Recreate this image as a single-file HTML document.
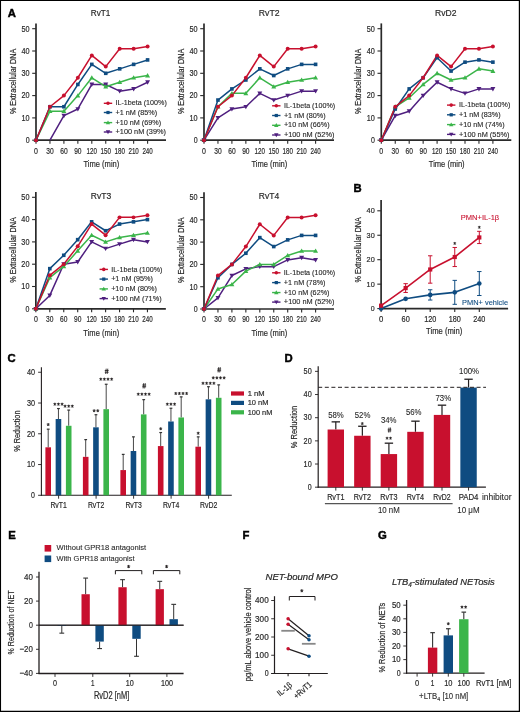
<!DOCTYPE html><html><head><meta charset="utf-8"><style>html,body{margin:0;padding:0;background:#fff}svg{display:block;will-change:transform}text{font-family:"Liberation Sans",sans-serif}</style></head><body>
<svg width="520" height="712" viewBox="0 0 520 712">
<rect x="0" y="0" width="520" height="712" fill="#fff"/>
<text x="7.8" y="17" font-size="11.3" fill="#000" stroke="#000" stroke-width="0.45" font-weight="bold">A</text>
<line x1="36" y1="23.4" x2="36" y2="140.8" stroke="#2a2a2a" stroke-width="1.7" />
<line x1="35.4" y1="140.2" x2="166" y2="140.2" stroke="#2a2a2a" stroke-width="1.7" />
<line x1="32.2" y1="140.2" x2="36" y2="140.2" stroke="#2a2a2a" stroke-width="1.1" />
<text x="29.6" y="143.08" font-size="9.3" text-anchor="end" fill="#2a2a2a" stroke="#2a2a2a" stroke-width="0.2" textLength="3.9" lengthAdjust="spacingAndGlyphs">0</text>
<line x1="32.2" y1="117.9" x2="36" y2="117.9" stroke="#2a2a2a" stroke-width="1.1" />
<text x="29.6" y="120.78" font-size="9.3" text-anchor="end" fill="#2a2a2a" stroke="#2a2a2a" stroke-width="0.2" textLength="8.1" lengthAdjust="spacingAndGlyphs">10</text>
<line x1="32.2" y1="95.6" x2="36" y2="95.6" stroke="#2a2a2a" stroke-width="1.1" />
<text x="29.6" y="98.48" font-size="9.3" text-anchor="end" fill="#2a2a2a" stroke="#2a2a2a" stroke-width="0.2" textLength="8.1" lengthAdjust="spacingAndGlyphs">20</text>
<line x1="32.2" y1="73.3" x2="36" y2="73.3" stroke="#2a2a2a" stroke-width="1.1" />
<text x="29.6" y="76.18" font-size="9.3" text-anchor="end" fill="#2a2a2a" stroke="#2a2a2a" stroke-width="0.2" textLength="8.1" lengthAdjust="spacingAndGlyphs">30</text>
<line x1="32.2" y1="51" x2="36" y2="51" stroke="#2a2a2a" stroke-width="1.1" />
<text x="29.6" y="53.88" font-size="9.3" text-anchor="end" fill="#2a2a2a" stroke="#2a2a2a" stroke-width="0.2" textLength="8.1" lengthAdjust="spacingAndGlyphs">40</text>
<line x1="32.2" y1="28.7" x2="36" y2="28.7" stroke="#2a2a2a" stroke-width="1.1" />
<text x="29.6" y="31.58" font-size="9.3" text-anchor="end" fill="#2a2a2a" stroke="#2a2a2a" stroke-width="0.2" textLength="8.1" lengthAdjust="spacingAndGlyphs">50</text>
<line x1="36" y1="140.2" x2="36" y2="143.7" stroke="#2a2a2a" stroke-width="1.1" />
<text x="36" y="153.69" font-size="9" text-anchor="middle" fill="#2a2a2a" stroke="#2a2a2a" stroke-width="0.2" textLength="3.9" lengthAdjust="spacingAndGlyphs">0</text>
<line x1="49.95" y1="140.2" x2="49.95" y2="143.7" stroke="#2a2a2a" stroke-width="1.1" />
<text x="49.95" y="153.69" font-size="9" text-anchor="middle" fill="#2a2a2a" stroke="#2a2a2a" stroke-width="0.2" textLength="7.4" lengthAdjust="spacingAndGlyphs">30</text>
<line x1="63.9" y1="140.2" x2="63.9" y2="143.7" stroke="#2a2a2a" stroke-width="1.1" />
<text x="63.9" y="153.69" font-size="9" text-anchor="middle" fill="#2a2a2a" stroke="#2a2a2a" stroke-width="0.2" textLength="7.4" lengthAdjust="spacingAndGlyphs">60</text>
<line x1="77.85" y1="140.2" x2="77.85" y2="143.7" stroke="#2a2a2a" stroke-width="1.1" />
<text x="77.85" y="153.69" font-size="9" text-anchor="middle" fill="#2a2a2a" stroke="#2a2a2a" stroke-width="0.2" textLength="7.4" lengthAdjust="spacingAndGlyphs">90</text>
<line x1="91.8" y1="140.2" x2="91.8" y2="143.7" stroke="#2a2a2a" stroke-width="1.1" />
<text x="91.8" y="153.69" font-size="9" text-anchor="middle" fill="#2a2a2a" stroke="#2a2a2a" stroke-width="0.2" textLength="10.4" lengthAdjust="spacingAndGlyphs">120</text>
<line x1="105.75" y1="140.2" x2="105.75" y2="143.7" stroke="#2a2a2a" stroke-width="1.1" />
<text x="105.75" y="153.69" font-size="9" text-anchor="middle" fill="#2a2a2a" stroke="#2a2a2a" stroke-width="0.2" textLength="10.4" lengthAdjust="spacingAndGlyphs">150</text>
<line x1="119.7" y1="140.2" x2="119.7" y2="143.7" stroke="#2a2a2a" stroke-width="1.1" />
<text x="119.7" y="153.69" font-size="9" text-anchor="middle" fill="#2a2a2a" stroke="#2a2a2a" stroke-width="0.2" textLength="10.4" lengthAdjust="spacingAndGlyphs">180</text>
<line x1="133.65" y1="140.2" x2="133.65" y2="143.7" stroke="#2a2a2a" stroke-width="1.1" />
<text x="133.65" y="153.69" font-size="9" text-anchor="middle" fill="#2a2a2a" stroke="#2a2a2a" stroke-width="0.2" textLength="10.4" lengthAdjust="spacingAndGlyphs">210</text>
<line x1="147.6" y1="140.2" x2="147.6" y2="143.7" stroke="#2a2a2a" stroke-width="1.1" />
<text x="147.6" y="153.69" font-size="9" text-anchor="middle" fill="#2a2a2a" stroke="#2a2a2a" stroke-width="0.2" textLength="10.4" lengthAdjust="spacingAndGlyphs">240</text>
<text x="101.4" y="167.07" font-size="9.9" text-anchor="middle" fill="#2a2a2a" stroke="#2a2a2a" stroke-width="0.2" textLength="35.8" lengthAdjust="spacingAndGlyphs">Time (min)</text>
<text x="13.1" y="84.13" font-size="8.8" text-anchor="middle" fill="#2a2a2a" stroke="#2a2a2a" stroke-width="0.2" textLength="65.4" lengthAdjust="spacingAndGlyphs" transform="rotate(-90 13.1 81.4)">% Extracellular DNA</text>
<text x="100.6" y="16.12" font-size="9.9" text-anchor="middle" fill="#2a2a2a" stroke="#2a2a2a" stroke-width="0.2" textLength="19.6" lengthAdjust="spacingAndGlyphs">RvT1</text>
<polyline points="49.95,140.2 63.9,115.67 77.85,108.98 91.8,84.45 105.75,84.45 119.7,91.14 133.65,88.91 147.6,82.22" fill="none" stroke="#4f1f7f" stroke-width="1.5" stroke-linejoin="round"/>
<polyline points="36,140.2 49.95,111.21 63.9,111.21 77.85,95.6 91.8,77.76 105.75,86.68 119.7,82.22 133.65,77.76 147.6,75.53" fill="none" stroke="#3bb54a" stroke-width="1.5" stroke-linejoin="round"/>
<polyline points="36,140.2 49.95,106.75 63.9,106.75 77.85,84.45 91.8,64.38 105.75,73.3 119.7,68.84 133.65,64.38 147.6,59.92" fill="none" stroke="#0f4c81" stroke-width="1.5" stroke-linejoin="round"/>
<polyline points="36,140.2 49.95,106.75 63.9,95.6 77.85,77.76 91.8,55.46 105.75,66.61 119.7,48.77 133.65,48.77 147.6,46.54" fill="none" stroke="#c8102e" stroke-width="1.5" stroke-linejoin="round"/>
<path d="M63.9 118.14L66.37 113.82L61.43 113.82Z" fill="#4f1f7f"/>
<path d="M77.85 111.45L80.32 107.13L75.38 107.13Z" fill="#4f1f7f"/>
<path d="M91.8 86.92L94.27 82.6L89.33 82.6Z" fill="#4f1f7f"/>
<path d="M105.75 86.92L108.22 82.6L103.28 82.6Z" fill="#4f1f7f"/>
<path d="M119.7 93.61L122.17 89.29L117.23 89.29Z" fill="#4f1f7f"/>
<path d="M133.65 91.38L136.12 87.06L131.18 87.06Z" fill="#4f1f7f"/>
<path d="M147.6 84.69L150.07 80.37L145.13 80.37Z" fill="#4f1f7f"/>
<path d="M36 137.73L38.47 142.05L33.53 142.05Z" fill="#3bb54a"/>
<path d="M49.95 108.74L52.42 113.06L47.48 113.06Z" fill="#3bb54a"/>
<path d="M63.9 108.74L66.37 113.06L61.43 113.06Z" fill="#3bb54a"/>
<path d="M77.85 93.13L80.32 97.45L75.38 97.45Z" fill="#3bb54a"/>
<path d="M91.8 75.29L94.27 79.61L89.33 79.61Z" fill="#3bb54a"/>
<path d="M105.75 84.21L108.22 88.53L103.28 88.53Z" fill="#3bb54a"/>
<path d="M119.7 79.75L122.17 84.07L117.23 84.07Z" fill="#3bb54a"/>
<path d="M133.65 75.29L136.12 79.61L131.18 79.61Z" fill="#3bb54a"/>
<path d="M147.6 73.06L150.07 77.38L145.13 77.38Z" fill="#3bb54a"/>
<rect x="34.2" y="138.39" width="3.61" height="3.61" fill="#0f4c81"/>
<rect x="48.15" y="104.94" width="3.61" height="3.61" fill="#0f4c81"/>
<rect x="62.09" y="104.94" width="3.61" height="3.61" fill="#0f4c81"/>
<rect x="76.04" y="82.64" width="3.61" height="3.61" fill="#0f4c81"/>
<rect x="89.99" y="62.57" width="3.61" height="3.61" fill="#0f4c81"/>
<rect x="103.94" y="71.49" width="3.61" height="3.61" fill="#0f4c81"/>
<rect x="117.89" y="67.03" width="3.61" height="3.61" fill="#0f4c81"/>
<rect x="131.84" y="62.57" width="3.61" height="3.61" fill="#0f4c81"/>
<rect x="145.79" y="58.11" width="3.61" height="3.61" fill="#0f4c81"/>
<circle cx="36" cy="140.2" r="1.99" fill="#c8102e"/>
<circle cx="49.95" cy="106.75" r="1.99" fill="#c8102e"/>
<circle cx="63.9" cy="95.6" r="1.99" fill="#c8102e"/>
<circle cx="77.85" cy="77.76" r="1.99" fill="#c8102e"/>
<circle cx="91.8" cy="55.46" r="1.99" fill="#c8102e"/>
<circle cx="105.75" cy="66.61" r="1.99" fill="#c8102e"/>
<circle cx="119.7" cy="48.77" r="1.99" fill="#c8102e"/>
<circle cx="133.65" cy="48.77" r="1.99" fill="#c8102e"/>
<circle cx="147.6" cy="46.54" r="1.99" fill="#c8102e"/>
<line x1="103.8" y1="103.3" x2="112.2" y2="103.3" stroke="#c8102e" stroke-width="1.4" />
<circle cx="108" cy="103.3" r="1.78" fill="#c8102e"/>
<text x="115.5" y="105.47" font-size="7" fill="#2a2a2a" stroke="#2a2a2a" stroke-width="0.12" textLength="51.3" lengthAdjust="spacingAndGlyphs">IL-1beta (100%)</text>
<line x1="103.8" y1="112.5" x2="112.2" y2="112.5" stroke="#0f4c81" stroke-width="1.4" />
<rect x="106.39" y="110.89" width="3.23" height="3.23" fill="#0f4c81"/>
<text x="115.5" y="114.67" font-size="7" fill="#2a2a2a" stroke="#2a2a2a" stroke-width="0.12" textLength="41.7" lengthAdjust="spacingAndGlyphs">+1 nM (85%)</text>
<line x1="103.8" y1="122.6" x2="112.2" y2="122.6" stroke="#3bb54a" stroke-width="1.4" />
<path d="M108 120.39L110.21 124.26L105.79 124.26Z" fill="#3bb54a"/>
<text x="115.5" y="124.77" font-size="7" fill="#2a2a2a" stroke="#2a2a2a" stroke-width="0.12" textLength="45.7" lengthAdjust="spacingAndGlyphs">+10 nM (69%)</text>
<line x1="103.8" y1="132" x2="112.2" y2="132" stroke="#4f1f7f" stroke-width="1.4" />
<path d="M108 134.21L110.21 130.34L105.79 130.34Z" fill="#4f1f7f"/>
<text x="115.5" y="134.17" font-size="7" fill="#2a2a2a" stroke="#2a2a2a" stroke-width="0.12" textLength="50.5" lengthAdjust="spacingAndGlyphs">+100 nM (39%)</text>
<line x1="204" y1="23.4" x2="204" y2="140.8" stroke="#2a2a2a" stroke-width="1.7" />
<line x1="203.4" y1="140.2" x2="334" y2="140.2" stroke="#2a2a2a" stroke-width="1.7" />
<line x1="200.2" y1="140.2" x2="204" y2="140.2" stroke="#2a2a2a" stroke-width="1.1" />
<text x="197.6" y="143.08" font-size="9.3" text-anchor="end" fill="#2a2a2a" stroke="#2a2a2a" stroke-width="0.2" textLength="3.9" lengthAdjust="spacingAndGlyphs">0</text>
<line x1="200.2" y1="117.9" x2="204" y2="117.9" stroke="#2a2a2a" stroke-width="1.1" />
<text x="197.6" y="120.78" font-size="9.3" text-anchor="end" fill="#2a2a2a" stroke="#2a2a2a" stroke-width="0.2" textLength="8.1" lengthAdjust="spacingAndGlyphs">10</text>
<line x1="200.2" y1="95.6" x2="204" y2="95.6" stroke="#2a2a2a" stroke-width="1.1" />
<text x="197.6" y="98.48" font-size="9.3" text-anchor="end" fill="#2a2a2a" stroke="#2a2a2a" stroke-width="0.2" textLength="8.1" lengthAdjust="spacingAndGlyphs">20</text>
<line x1="200.2" y1="73.3" x2="204" y2="73.3" stroke="#2a2a2a" stroke-width="1.1" />
<text x="197.6" y="76.18" font-size="9.3" text-anchor="end" fill="#2a2a2a" stroke="#2a2a2a" stroke-width="0.2" textLength="8.1" lengthAdjust="spacingAndGlyphs">30</text>
<line x1="200.2" y1="51" x2="204" y2="51" stroke="#2a2a2a" stroke-width="1.1" />
<text x="197.6" y="53.88" font-size="9.3" text-anchor="end" fill="#2a2a2a" stroke="#2a2a2a" stroke-width="0.2" textLength="8.1" lengthAdjust="spacingAndGlyphs">40</text>
<line x1="200.2" y1="28.7" x2="204" y2="28.7" stroke="#2a2a2a" stroke-width="1.1" />
<text x="197.6" y="31.58" font-size="9.3" text-anchor="end" fill="#2a2a2a" stroke="#2a2a2a" stroke-width="0.2" textLength="8.1" lengthAdjust="spacingAndGlyphs">50</text>
<line x1="204" y1="140.2" x2="204" y2="143.7" stroke="#2a2a2a" stroke-width="1.1" />
<text x="204" y="153.69" font-size="9" text-anchor="middle" fill="#2a2a2a" stroke="#2a2a2a" stroke-width="0.2" textLength="3.9" lengthAdjust="spacingAndGlyphs">0</text>
<line x1="217.95" y1="140.2" x2="217.95" y2="143.7" stroke="#2a2a2a" stroke-width="1.1" />
<text x="217.95" y="153.69" font-size="9" text-anchor="middle" fill="#2a2a2a" stroke="#2a2a2a" stroke-width="0.2" textLength="7.4" lengthAdjust="spacingAndGlyphs">30</text>
<line x1="231.9" y1="140.2" x2="231.9" y2="143.7" stroke="#2a2a2a" stroke-width="1.1" />
<text x="231.9" y="153.69" font-size="9" text-anchor="middle" fill="#2a2a2a" stroke="#2a2a2a" stroke-width="0.2" textLength="7.4" lengthAdjust="spacingAndGlyphs">60</text>
<line x1="245.85" y1="140.2" x2="245.85" y2="143.7" stroke="#2a2a2a" stroke-width="1.1" />
<text x="245.85" y="153.69" font-size="9" text-anchor="middle" fill="#2a2a2a" stroke="#2a2a2a" stroke-width="0.2" textLength="7.4" lengthAdjust="spacingAndGlyphs">90</text>
<line x1="259.8" y1="140.2" x2="259.8" y2="143.7" stroke="#2a2a2a" stroke-width="1.1" />
<text x="259.8" y="153.69" font-size="9" text-anchor="middle" fill="#2a2a2a" stroke="#2a2a2a" stroke-width="0.2" textLength="10.4" lengthAdjust="spacingAndGlyphs">120</text>
<line x1="273.75" y1="140.2" x2="273.75" y2="143.7" stroke="#2a2a2a" stroke-width="1.1" />
<text x="273.75" y="153.69" font-size="9" text-anchor="middle" fill="#2a2a2a" stroke="#2a2a2a" stroke-width="0.2" textLength="10.4" lengthAdjust="spacingAndGlyphs">150</text>
<line x1="287.7" y1="140.2" x2="287.7" y2="143.7" stroke="#2a2a2a" stroke-width="1.1" />
<text x="287.7" y="153.69" font-size="9" text-anchor="middle" fill="#2a2a2a" stroke="#2a2a2a" stroke-width="0.2" textLength="10.4" lengthAdjust="spacingAndGlyphs">180</text>
<line x1="301.65" y1="140.2" x2="301.65" y2="143.7" stroke="#2a2a2a" stroke-width="1.1" />
<text x="301.65" y="153.69" font-size="9" text-anchor="middle" fill="#2a2a2a" stroke="#2a2a2a" stroke-width="0.2" textLength="10.4" lengthAdjust="spacingAndGlyphs">210</text>
<line x1="315.6" y1="140.2" x2="315.6" y2="143.7" stroke="#2a2a2a" stroke-width="1.1" />
<text x="315.6" y="153.69" font-size="9" text-anchor="middle" fill="#2a2a2a" stroke="#2a2a2a" stroke-width="0.2" textLength="10.4" lengthAdjust="spacingAndGlyphs">240</text>
<text x="269.4" y="167.07" font-size="9.9" text-anchor="middle" fill="#2a2a2a" stroke="#2a2a2a" stroke-width="0.2" textLength="35.8" lengthAdjust="spacingAndGlyphs">Time (min)</text>
<text x="181.1" y="84.13" font-size="8.8" text-anchor="middle" fill="#2a2a2a" stroke="#2a2a2a" stroke-width="0.2" textLength="65.4" lengthAdjust="spacingAndGlyphs" transform="rotate(-90 181.1 81.4)">% Extracellular DNA</text>
<text x="269.2" y="16.12" font-size="9.9" text-anchor="middle" fill="#2a2a2a" stroke="#2a2a2a" stroke-width="0.2" textLength="20.8" lengthAdjust="spacingAndGlyphs">RvT2</text>
<polyline points="204,140.2 217.95,117.9 231.9,108.98 245.85,106.75 259.8,93.37 273.75,100.06 287.7,95.6 301.65,91.14 315.6,91.14" fill="none" stroke="#4f1f7f" stroke-width="1.5" stroke-linejoin="round"/>
<polyline points="204,140.2 217.95,106.75 231.9,93.37 245.85,93.37 259.8,77.76 273.75,86.68 287.7,82.22 301.65,79.99 315.6,77.76" fill="none" stroke="#3bb54a" stroke-width="1.5" stroke-linejoin="round"/>
<polyline points="204,140.2 217.95,100.06 231.9,88.91 245.85,79.99 259.8,68.84 273.75,75.53 287.7,68.84 301.65,64.38 315.6,64.38" fill="none" stroke="#0f4c81" stroke-width="1.5" stroke-linejoin="round"/>
<polyline points="204,140.2 217.95,106.75 231.9,95.6 245.85,77.76 259.8,55.46 273.75,66.61 287.7,48.77 301.65,48.77 315.6,46.54" fill="none" stroke="#c8102e" stroke-width="1.5" stroke-linejoin="round"/>
<path d="M204 142.67L206.47 138.35L201.53 138.35Z" fill="#4f1f7f"/>
<path d="M217.95 120.37L220.42 116.05L215.48 116.05Z" fill="#4f1f7f"/>
<path d="M231.9 111.45L234.37 107.13L229.43 107.13Z" fill="#4f1f7f"/>
<path d="M245.85 109.22L248.32 104.9L243.38 104.9Z" fill="#4f1f7f"/>
<path d="M259.8 95.84L262.27 91.52L257.33 91.52Z" fill="#4f1f7f"/>
<path d="M273.75 102.53L276.22 98.21L271.28 98.21Z" fill="#4f1f7f"/>
<path d="M287.7 98.07L290.17 93.75L285.23 93.75Z" fill="#4f1f7f"/>
<path d="M301.65 93.61L304.12 89.29L299.18 89.29Z" fill="#4f1f7f"/>
<path d="M315.6 93.61L318.07 89.29L313.13 89.29Z" fill="#4f1f7f"/>
<path d="M204 137.73L206.47 142.05L201.53 142.05Z" fill="#3bb54a"/>
<path d="M217.95 104.28L220.42 108.6L215.48 108.6Z" fill="#3bb54a"/>
<path d="M231.9 90.9L234.37 95.22L229.43 95.22Z" fill="#3bb54a"/>
<path d="M245.85 90.9L248.32 95.22L243.38 95.22Z" fill="#3bb54a"/>
<path d="M259.8 75.29L262.27 79.61L257.33 79.61Z" fill="#3bb54a"/>
<path d="M273.75 84.21L276.22 88.53L271.28 88.53Z" fill="#3bb54a"/>
<path d="M287.7 79.75L290.17 84.07L285.23 84.07Z" fill="#3bb54a"/>
<path d="M301.65 77.52L304.12 81.84L299.18 81.84Z" fill="#3bb54a"/>
<path d="M315.6 75.29L318.07 79.61L313.13 79.61Z" fill="#3bb54a"/>
<rect x="202.19" y="138.39" width="3.61" height="3.61" fill="#0f4c81"/>
<rect x="216.14" y="98.25" width="3.61" height="3.61" fill="#0f4c81"/>
<rect x="230.09" y="87.1" width="3.61" height="3.61" fill="#0f4c81"/>
<rect x="244.04" y="78.18" width="3.61" height="3.61" fill="#0f4c81"/>
<rect x="258" y="67.03" width="3.61" height="3.61" fill="#0f4c81"/>
<rect x="271.94" y="73.72" width="3.61" height="3.61" fill="#0f4c81"/>
<rect x="285.89" y="67.03" width="3.61" height="3.61" fill="#0f4c81"/>
<rect x="299.84" y="62.57" width="3.61" height="3.61" fill="#0f4c81"/>
<rect x="313.8" y="62.57" width="3.61" height="3.61" fill="#0f4c81"/>
<circle cx="204" cy="140.2" r="1.99" fill="#c8102e"/>
<circle cx="217.95" cy="106.75" r="1.99" fill="#c8102e"/>
<circle cx="231.9" cy="95.6" r="1.99" fill="#c8102e"/>
<circle cx="245.85" cy="77.76" r="1.99" fill="#c8102e"/>
<circle cx="259.8" cy="55.46" r="1.99" fill="#c8102e"/>
<circle cx="273.75" cy="66.61" r="1.99" fill="#c8102e"/>
<circle cx="287.7" cy="48.77" r="1.99" fill="#c8102e"/>
<circle cx="301.65" cy="48.77" r="1.99" fill="#c8102e"/>
<circle cx="315.6" cy="46.54" r="1.99" fill="#c8102e"/>
<line x1="272.1" y1="105.8" x2="280.5" y2="105.8" stroke="#c8102e" stroke-width="1.4" />
<circle cx="276.3" cy="105.8" r="1.78" fill="#c8102e"/>
<text x="283.9" y="107.97" font-size="7" fill="#2a2a2a" stroke="#2a2a2a" stroke-width="0.12" textLength="51.3" lengthAdjust="spacingAndGlyphs">IL-1beta (100%)</text>
<line x1="272.1" y1="115.5" x2="280.5" y2="115.5" stroke="#0f4c81" stroke-width="1.4" />
<rect x="274.69" y="113.89" width="3.23" height="3.23" fill="#0f4c81"/>
<text x="283.9" y="117.67" font-size="7" fill="#2a2a2a" stroke="#2a2a2a" stroke-width="0.12" textLength="41.7" lengthAdjust="spacingAndGlyphs">+1 nM (80%)</text>
<line x1="272.1" y1="125.3" x2="280.5" y2="125.3" stroke="#3bb54a" stroke-width="1.4" />
<path d="M276.3 123.09L278.51 126.96L274.09 126.96Z" fill="#3bb54a"/>
<text x="283.9" y="127.47" font-size="7" fill="#2a2a2a" stroke="#2a2a2a" stroke-width="0.12" textLength="45.7" lengthAdjust="spacingAndGlyphs">+10 nM (66%)</text>
<line x1="272.1" y1="135" x2="280.5" y2="135" stroke="#4f1f7f" stroke-width="1.4" />
<path d="M276.3 137.21L278.51 133.34L274.09 133.34Z" fill="#4f1f7f"/>
<text x="283.9" y="137.17" font-size="7" fill="#2a2a2a" stroke="#2a2a2a" stroke-width="0.12" textLength="50.5" lengthAdjust="spacingAndGlyphs">+100 nM (52%)</text>
<line x1="381.3" y1="23.4" x2="381.3" y2="140.8" stroke="#2a2a2a" stroke-width="1.7" />
<line x1="380.7" y1="140.2" x2="511.3" y2="140.2" stroke="#2a2a2a" stroke-width="1.7" />
<line x1="377.5" y1="140.2" x2="381.3" y2="140.2" stroke="#2a2a2a" stroke-width="1.1" />
<text x="374.9" y="143.08" font-size="9.3" text-anchor="end" fill="#2a2a2a" stroke="#2a2a2a" stroke-width="0.2" textLength="3.9" lengthAdjust="spacingAndGlyphs">0</text>
<line x1="377.5" y1="117.9" x2="381.3" y2="117.9" stroke="#2a2a2a" stroke-width="1.1" />
<text x="374.9" y="120.78" font-size="9.3" text-anchor="end" fill="#2a2a2a" stroke="#2a2a2a" stroke-width="0.2" textLength="8.1" lengthAdjust="spacingAndGlyphs">10</text>
<line x1="377.5" y1="95.6" x2="381.3" y2="95.6" stroke="#2a2a2a" stroke-width="1.1" />
<text x="374.9" y="98.48" font-size="9.3" text-anchor="end" fill="#2a2a2a" stroke="#2a2a2a" stroke-width="0.2" textLength="8.1" lengthAdjust="spacingAndGlyphs">20</text>
<line x1="377.5" y1="73.3" x2="381.3" y2="73.3" stroke="#2a2a2a" stroke-width="1.1" />
<text x="374.9" y="76.18" font-size="9.3" text-anchor="end" fill="#2a2a2a" stroke="#2a2a2a" stroke-width="0.2" textLength="8.1" lengthAdjust="spacingAndGlyphs">30</text>
<line x1="377.5" y1="51" x2="381.3" y2="51" stroke="#2a2a2a" stroke-width="1.1" />
<text x="374.9" y="53.88" font-size="9.3" text-anchor="end" fill="#2a2a2a" stroke="#2a2a2a" stroke-width="0.2" textLength="8.1" lengthAdjust="spacingAndGlyphs">40</text>
<line x1="377.5" y1="28.7" x2="381.3" y2="28.7" stroke="#2a2a2a" stroke-width="1.1" />
<text x="374.9" y="31.58" font-size="9.3" text-anchor="end" fill="#2a2a2a" stroke="#2a2a2a" stroke-width="0.2" textLength="8.1" lengthAdjust="spacingAndGlyphs">50</text>
<line x1="381.3" y1="140.2" x2="381.3" y2="143.7" stroke="#2a2a2a" stroke-width="1.1" />
<text x="381.3" y="153.69" font-size="9" text-anchor="middle" fill="#2a2a2a" stroke="#2a2a2a" stroke-width="0.2" textLength="3.9" lengthAdjust="spacingAndGlyphs">0</text>
<line x1="395.25" y1="140.2" x2="395.25" y2="143.7" stroke="#2a2a2a" stroke-width="1.1" />
<text x="395.25" y="153.69" font-size="9" text-anchor="middle" fill="#2a2a2a" stroke="#2a2a2a" stroke-width="0.2" textLength="7.4" lengthAdjust="spacingAndGlyphs">30</text>
<line x1="409.2" y1="140.2" x2="409.2" y2="143.7" stroke="#2a2a2a" stroke-width="1.1" />
<text x="409.2" y="153.69" font-size="9" text-anchor="middle" fill="#2a2a2a" stroke="#2a2a2a" stroke-width="0.2" textLength="7.4" lengthAdjust="spacingAndGlyphs">60</text>
<line x1="423.15" y1="140.2" x2="423.15" y2="143.7" stroke="#2a2a2a" stroke-width="1.1" />
<text x="423.15" y="153.69" font-size="9" text-anchor="middle" fill="#2a2a2a" stroke="#2a2a2a" stroke-width="0.2" textLength="7.4" lengthAdjust="spacingAndGlyphs">90</text>
<line x1="437.1" y1="140.2" x2="437.1" y2="143.7" stroke="#2a2a2a" stroke-width="1.1" />
<text x="437.1" y="153.69" font-size="9" text-anchor="middle" fill="#2a2a2a" stroke="#2a2a2a" stroke-width="0.2" textLength="10.4" lengthAdjust="spacingAndGlyphs">120</text>
<line x1="451.05" y1="140.2" x2="451.05" y2="143.7" stroke="#2a2a2a" stroke-width="1.1" />
<text x="451.05" y="153.69" font-size="9" text-anchor="middle" fill="#2a2a2a" stroke="#2a2a2a" stroke-width="0.2" textLength="10.4" lengthAdjust="spacingAndGlyphs">150</text>
<line x1="465" y1="140.2" x2="465" y2="143.7" stroke="#2a2a2a" stroke-width="1.1" />
<text x="465" y="153.69" font-size="9" text-anchor="middle" fill="#2a2a2a" stroke="#2a2a2a" stroke-width="0.2" textLength="10.4" lengthAdjust="spacingAndGlyphs">180</text>
<line x1="478.95" y1="140.2" x2="478.95" y2="143.7" stroke="#2a2a2a" stroke-width="1.1" />
<text x="478.95" y="153.69" font-size="9" text-anchor="middle" fill="#2a2a2a" stroke="#2a2a2a" stroke-width="0.2" textLength="10.4" lengthAdjust="spacingAndGlyphs">210</text>
<line x1="492.9" y1="140.2" x2="492.9" y2="143.7" stroke="#2a2a2a" stroke-width="1.1" />
<text x="492.9" y="153.69" font-size="9" text-anchor="middle" fill="#2a2a2a" stroke="#2a2a2a" stroke-width="0.2" textLength="10.4" lengthAdjust="spacingAndGlyphs">240</text>
<text x="446.7" y="167.07" font-size="9.9" text-anchor="middle" fill="#2a2a2a" stroke="#2a2a2a" stroke-width="0.2" textLength="35.8" lengthAdjust="spacingAndGlyphs">Time (min)</text>
<text x="358.4" y="84.13" font-size="8.8" text-anchor="middle" fill="#2a2a2a" stroke="#2a2a2a" stroke-width="0.2" textLength="65.4" lengthAdjust="spacingAndGlyphs" transform="rotate(-90 358.4 81.4)">% Extracellular DNA</text>
<text x="445.8" y="16.12" font-size="9.9" text-anchor="middle" fill="#2a2a2a" stroke="#2a2a2a" stroke-width="0.2" textLength="21.5" lengthAdjust="spacingAndGlyphs">RvD2</text>
<polyline points="381.3,140.2 395.25,115.67 409.2,111.21 423.15,95.6 437.1,82.22 451.05,88.91 465,93.37 478.95,88.91 492.9,88.91" fill="none" stroke="#4f1f7f" stroke-width="1.5" stroke-linejoin="round"/>
<polyline points="381.3,140.2 395.25,106.75 409.2,97.83 423.15,84.45 437.1,73.3 451.05,79.99 465,77.76 478.95,68.84 492.9,71.07" fill="none" stroke="#3bb54a" stroke-width="1.5" stroke-linejoin="round"/>
<polyline points="381.3,140.2 395.25,108.98 409.2,88.91 423.15,77.76 437.1,57.69 451.05,71.07 465,62.15 478.95,59.92 492.9,62.15" fill="none" stroke="#0f4c81" stroke-width="1.5" stroke-linejoin="round"/>
<polyline points="381.3,140.2 395.25,106.75 409.2,95.6 423.15,77.76 437.1,55.46 451.05,66.61 465,48.77 478.95,48.77 492.9,46.54" fill="none" stroke="#c8102e" stroke-width="1.5" stroke-linejoin="round"/>
<path d="M381.3 142.67L383.77 138.35L378.83 138.35Z" fill="#4f1f7f"/>
<path d="M395.25 118.14L397.72 113.82L392.78 113.82Z" fill="#4f1f7f"/>
<path d="M409.2 113.68L411.67 109.36L406.73 109.36Z" fill="#4f1f7f"/>
<path d="M423.15 98.07L425.62 93.75L420.68 93.75Z" fill="#4f1f7f"/>
<path d="M437.1 84.69L439.57 80.37L434.63 80.37Z" fill="#4f1f7f"/>
<path d="M451.05 91.38L453.52 87.06L448.58 87.06Z" fill="#4f1f7f"/>
<path d="M465 95.84L467.47 91.52L462.53 91.52Z" fill="#4f1f7f"/>
<path d="M478.95 91.38L481.42 87.06L476.48 87.06Z" fill="#4f1f7f"/>
<path d="M492.9 91.38L495.37 87.06L490.43 87.06Z" fill="#4f1f7f"/>
<path d="M381.3 137.73L383.77 142.05L378.83 142.05Z" fill="#3bb54a"/>
<path d="M395.25 104.28L397.72 108.6L392.78 108.6Z" fill="#3bb54a"/>
<path d="M409.2 95.36L411.67 99.68L406.73 99.68Z" fill="#3bb54a"/>
<path d="M423.15 81.98L425.62 86.3L420.68 86.3Z" fill="#3bb54a"/>
<path d="M437.1 70.83L439.57 75.15L434.63 75.15Z" fill="#3bb54a"/>
<path d="M451.05 77.52L453.52 81.84L448.58 81.84Z" fill="#3bb54a"/>
<path d="M465 75.29L467.47 79.61L462.53 79.61Z" fill="#3bb54a"/>
<path d="M478.95 66.37L481.42 70.69L476.48 70.69Z" fill="#3bb54a"/>
<path d="M492.9 68.6L495.37 72.92L490.43 72.92Z" fill="#3bb54a"/>
<rect x="379.5" y="138.39" width="3.61" height="3.61" fill="#0f4c81"/>
<rect x="393.44" y="107.17" width="3.61" height="3.61" fill="#0f4c81"/>
<rect x="407.39" y="87.1" width="3.61" height="3.61" fill="#0f4c81"/>
<rect x="421.34" y="75.95" width="3.61" height="3.61" fill="#0f4c81"/>
<rect x="435.3" y="55.88" width="3.61" height="3.61" fill="#0f4c81"/>
<rect x="449.25" y="69.26" width="3.61" height="3.61" fill="#0f4c81"/>
<rect x="463.19" y="60.34" width="3.61" height="3.61" fill="#0f4c81"/>
<rect x="477.14" y="58.11" width="3.61" height="3.61" fill="#0f4c81"/>
<rect x="491.09" y="60.34" width="3.61" height="3.61" fill="#0f4c81"/>
<circle cx="381.3" cy="140.2" r="1.99" fill="#c8102e"/>
<circle cx="395.25" cy="106.75" r="1.99" fill="#c8102e"/>
<circle cx="409.2" cy="95.6" r="1.99" fill="#c8102e"/>
<circle cx="423.15" cy="77.76" r="1.99" fill="#c8102e"/>
<circle cx="437.1" cy="55.46" r="1.99" fill="#c8102e"/>
<circle cx="451.05" cy="66.61" r="1.99" fill="#c8102e"/>
<circle cx="465" cy="48.77" r="1.99" fill="#c8102e"/>
<circle cx="478.95" cy="48.77" r="1.99" fill="#c8102e"/>
<circle cx="492.9" cy="46.54" r="1.99" fill="#c8102e"/>
<line x1="447" y1="105.1" x2="455.4" y2="105.1" stroke="#c8102e" stroke-width="1.4" />
<circle cx="451.2" cy="105.1" r="1.78" fill="#c8102e"/>
<text x="459" y="107.27" font-size="7" fill="#2a2a2a" stroke="#2a2a2a" stroke-width="0.12" textLength="51.3" lengthAdjust="spacingAndGlyphs">IL-1beta (100%)</text>
<line x1="447" y1="114.8" x2="455.4" y2="114.8" stroke="#0f4c81" stroke-width="1.4" />
<rect x="449.59" y="113.19" width="3.23" height="3.23" fill="#0f4c81"/>
<text x="459" y="116.97" font-size="7" fill="#2a2a2a" stroke="#2a2a2a" stroke-width="0.12" textLength="41.7" lengthAdjust="spacingAndGlyphs">+1 nM (83%)</text>
<line x1="447" y1="124.6" x2="455.4" y2="124.6" stroke="#3bb54a" stroke-width="1.4" />
<path d="M451.2 122.39L453.41 126.26L448.99 126.26Z" fill="#3bb54a"/>
<text x="459" y="126.77" font-size="7" fill="#2a2a2a" stroke="#2a2a2a" stroke-width="0.12" textLength="45.7" lengthAdjust="spacingAndGlyphs">+10 nM (74%)</text>
<line x1="447" y1="134.4" x2="455.4" y2="134.4" stroke="#4f1f7f" stroke-width="1.4" />
<path d="M451.2 136.61L453.41 132.74L448.99 132.74Z" fill="#4f1f7f"/>
<text x="459" y="136.57" font-size="7" fill="#2a2a2a" stroke="#2a2a2a" stroke-width="0.12" textLength="50.5" lengthAdjust="spacingAndGlyphs">+100 nM (55%)</text>
<line x1="35.85" y1="192" x2="35.85" y2="309.4" stroke="#2a2a2a" stroke-width="1.7" />
<line x1="35.25" y1="308.8" x2="165.85" y2="308.8" stroke="#2a2a2a" stroke-width="1.7" />
<line x1="32.05" y1="308.8" x2="35.85" y2="308.8" stroke="#2a2a2a" stroke-width="1.1" />
<text x="29.45" y="311.68" font-size="9.3" text-anchor="end" fill="#2a2a2a" stroke="#2a2a2a" stroke-width="0.2" textLength="3.9" lengthAdjust="spacingAndGlyphs">0</text>
<line x1="32.05" y1="286.5" x2="35.85" y2="286.5" stroke="#2a2a2a" stroke-width="1.1" />
<text x="29.45" y="289.38" font-size="9.3" text-anchor="end" fill="#2a2a2a" stroke="#2a2a2a" stroke-width="0.2" textLength="8.1" lengthAdjust="spacingAndGlyphs">10</text>
<line x1="32.05" y1="264.2" x2="35.85" y2="264.2" stroke="#2a2a2a" stroke-width="1.1" />
<text x="29.45" y="267.08" font-size="9.3" text-anchor="end" fill="#2a2a2a" stroke="#2a2a2a" stroke-width="0.2" textLength="8.1" lengthAdjust="spacingAndGlyphs">20</text>
<line x1="32.05" y1="241.9" x2="35.85" y2="241.9" stroke="#2a2a2a" stroke-width="1.1" />
<text x="29.45" y="244.78" font-size="9.3" text-anchor="end" fill="#2a2a2a" stroke="#2a2a2a" stroke-width="0.2" textLength="8.1" lengthAdjust="spacingAndGlyphs">30</text>
<line x1="32.05" y1="219.6" x2="35.85" y2="219.6" stroke="#2a2a2a" stroke-width="1.1" />
<text x="29.45" y="222.48" font-size="9.3" text-anchor="end" fill="#2a2a2a" stroke="#2a2a2a" stroke-width="0.2" textLength="8.1" lengthAdjust="spacingAndGlyphs">40</text>
<line x1="32.05" y1="197.3" x2="35.85" y2="197.3" stroke="#2a2a2a" stroke-width="1.1" />
<text x="29.45" y="200.18" font-size="9.3" text-anchor="end" fill="#2a2a2a" stroke="#2a2a2a" stroke-width="0.2" textLength="8.1" lengthAdjust="spacingAndGlyphs">50</text>
<line x1="35.85" y1="308.8" x2="35.85" y2="312.3" stroke="#2a2a2a" stroke-width="1.1" />
<text x="35.85" y="322.29" font-size="9" text-anchor="middle" fill="#2a2a2a" stroke="#2a2a2a" stroke-width="0.2" textLength="3.9" lengthAdjust="spacingAndGlyphs">0</text>
<line x1="49.8" y1="308.8" x2="49.8" y2="312.3" stroke="#2a2a2a" stroke-width="1.1" />
<text x="49.8" y="322.29" font-size="9" text-anchor="middle" fill="#2a2a2a" stroke="#2a2a2a" stroke-width="0.2" textLength="7.4" lengthAdjust="spacingAndGlyphs">30</text>
<line x1="63.75" y1="308.8" x2="63.75" y2="312.3" stroke="#2a2a2a" stroke-width="1.1" />
<text x="63.75" y="322.29" font-size="9" text-anchor="middle" fill="#2a2a2a" stroke="#2a2a2a" stroke-width="0.2" textLength="7.4" lengthAdjust="spacingAndGlyphs">60</text>
<line x1="77.7" y1="308.8" x2="77.7" y2="312.3" stroke="#2a2a2a" stroke-width="1.1" />
<text x="77.7" y="322.29" font-size="9" text-anchor="middle" fill="#2a2a2a" stroke="#2a2a2a" stroke-width="0.2" textLength="7.4" lengthAdjust="spacingAndGlyphs">90</text>
<line x1="91.65" y1="308.8" x2="91.65" y2="312.3" stroke="#2a2a2a" stroke-width="1.1" />
<text x="91.65" y="322.29" font-size="9" text-anchor="middle" fill="#2a2a2a" stroke="#2a2a2a" stroke-width="0.2" textLength="10.4" lengthAdjust="spacingAndGlyphs">120</text>
<line x1="105.6" y1="308.8" x2="105.6" y2="312.3" stroke="#2a2a2a" stroke-width="1.1" />
<text x="105.6" y="322.29" font-size="9" text-anchor="middle" fill="#2a2a2a" stroke="#2a2a2a" stroke-width="0.2" textLength="10.4" lengthAdjust="spacingAndGlyphs">150</text>
<line x1="119.55" y1="308.8" x2="119.55" y2="312.3" stroke="#2a2a2a" stroke-width="1.1" />
<text x="119.55" y="322.29" font-size="9" text-anchor="middle" fill="#2a2a2a" stroke="#2a2a2a" stroke-width="0.2" textLength="10.4" lengthAdjust="spacingAndGlyphs">180</text>
<line x1="133.5" y1="308.8" x2="133.5" y2="312.3" stroke="#2a2a2a" stroke-width="1.1" />
<text x="133.5" y="322.29" font-size="9" text-anchor="middle" fill="#2a2a2a" stroke="#2a2a2a" stroke-width="0.2" textLength="10.4" lengthAdjust="spacingAndGlyphs">210</text>
<line x1="147.45" y1="308.8" x2="147.45" y2="312.3" stroke="#2a2a2a" stroke-width="1.1" />
<text x="147.45" y="322.29" font-size="9" text-anchor="middle" fill="#2a2a2a" stroke="#2a2a2a" stroke-width="0.2" textLength="10.4" lengthAdjust="spacingAndGlyphs">240</text>
<text x="101.25" y="335.67" font-size="9.9" text-anchor="middle" fill="#2a2a2a" stroke="#2a2a2a" stroke-width="0.2" textLength="35.8" lengthAdjust="spacingAndGlyphs">Time (min)</text>
<text x="12.95" y="252.73" font-size="8.8" text-anchor="middle" fill="#2a2a2a" stroke="#2a2a2a" stroke-width="0.2" textLength="65.4" lengthAdjust="spacingAndGlyphs" transform="rotate(-90 12.95 250)">% Extracellular DNA</text>
<text x="101" y="198.67" font-size="9.9" text-anchor="middle" fill="#2a2a2a" stroke="#2a2a2a" stroke-width="0.2" textLength="20.4" lengthAdjust="spacingAndGlyphs">RvT3</text>
<polyline points="35.85,308.8 49.8,295.42 63.75,264.2 77.7,261.97 91.65,241.9 105.6,248.59 119.55,244.13 133.5,239.67 147.45,241.9" fill="none" stroke="#4f1f7f" stroke-width="1.5" stroke-linejoin="round"/>
<polyline points="35.85,308.8 49.8,277.58 63.75,266.43 77.7,250.82 91.65,235.21 105.6,241.9 119.55,237.44 133.5,235.21 147.45,232.98" fill="none" stroke="#3bb54a" stroke-width="1.5" stroke-linejoin="round"/>
<polyline points="35.85,308.8 49.8,268.66 63.75,255.28 77.7,239.67 91.65,221.83 105.6,230.75 119.55,224.06 133.5,221.83 147.45,219.6" fill="none" stroke="#0f4c81" stroke-width="1.5" stroke-linejoin="round"/>
<polyline points="35.85,308.8 49.8,275.35 63.75,264.2 77.7,246.36 91.65,224.06 105.6,235.21 119.55,217.37 133.5,217.37 147.45,215.14" fill="none" stroke="#c8102e" stroke-width="1.5" stroke-linejoin="round"/>
<path d="M35.85 311.27L38.32 306.95L33.38 306.95Z" fill="#4f1f7f"/>
<path d="M49.8 297.89L52.27 293.57L47.33 293.57Z" fill="#4f1f7f"/>
<path d="M63.75 266.67L66.22 262.35L61.28 262.35Z" fill="#4f1f7f"/>
<path d="M77.7 264.44L80.17 260.12L75.23 260.12Z" fill="#4f1f7f"/>
<path d="M91.65 244.37L94.12 240.05L89.18 240.05Z" fill="#4f1f7f"/>
<path d="M105.6 251.06L108.07 246.74L103.13 246.74Z" fill="#4f1f7f"/>
<path d="M119.55 246.6L122.02 242.28L117.08 242.28Z" fill="#4f1f7f"/>
<path d="M133.5 242.14L135.97 237.82L131.03 237.82Z" fill="#4f1f7f"/>
<path d="M147.45 244.37L149.92 240.05L144.98 240.05Z" fill="#4f1f7f"/>
<path d="M35.85 306.33L38.32 310.65L33.38 310.65Z" fill="#3bb54a"/>
<path d="M49.8 275.11L52.27 279.43L47.33 279.43Z" fill="#3bb54a"/>
<path d="M63.75 263.96L66.22 268.28L61.28 268.28Z" fill="#3bb54a"/>
<path d="M77.7 248.35L80.17 252.67L75.23 252.67Z" fill="#3bb54a"/>
<path d="M91.65 232.74L94.12 237.06L89.18 237.06Z" fill="#3bb54a"/>
<path d="M105.6 239.43L108.07 243.75L103.13 243.75Z" fill="#3bb54a"/>
<path d="M119.55 234.97L122.02 239.29L117.08 239.29Z" fill="#3bb54a"/>
<path d="M133.5 232.74L135.97 237.06L131.03 237.06Z" fill="#3bb54a"/>
<path d="M147.45 230.51L149.92 234.83L144.98 234.83Z" fill="#3bb54a"/>
<rect x="34.05" y="307" width="3.61" height="3.61" fill="#0f4c81"/>
<rect x="47.99" y="266.86" width="3.61" height="3.61" fill="#0f4c81"/>
<rect x="61.95" y="253.48" width="3.61" height="3.61" fill="#0f4c81"/>
<rect x="75.89" y="237.87" width="3.61" height="3.61" fill="#0f4c81"/>
<rect x="89.84" y="220.03" width="3.61" height="3.61" fill="#0f4c81"/>
<rect x="103.79" y="228.94" width="3.61" height="3.61" fill="#0f4c81"/>
<rect x="117.74" y="222.25" width="3.61" height="3.61" fill="#0f4c81"/>
<rect x="131.69" y="220.03" width="3.61" height="3.61" fill="#0f4c81"/>
<rect x="145.64" y="217.8" width="3.61" height="3.61" fill="#0f4c81"/>
<circle cx="35.85" cy="308.8" r="1.99" fill="#c8102e"/>
<circle cx="49.8" cy="275.35" r="1.99" fill="#c8102e"/>
<circle cx="63.75" cy="264.2" r="1.99" fill="#c8102e"/>
<circle cx="77.7" cy="246.36" r="1.99" fill="#c8102e"/>
<circle cx="91.65" cy="224.06" r="1.99" fill="#c8102e"/>
<circle cx="105.6" cy="235.21" r="1.99" fill="#c8102e"/>
<circle cx="119.55" cy="217.37" r="1.99" fill="#c8102e"/>
<circle cx="133.5" cy="217.37" r="1.99" fill="#c8102e"/>
<circle cx="147.45" cy="215.14" r="1.99" fill="#c8102e"/>
<line x1="99.55" y1="269.4" x2="107.95" y2="269.4" stroke="#c8102e" stroke-width="1.4" />
<circle cx="103.75" cy="269.4" r="1.78" fill="#c8102e"/>
<text x="111.15" y="271.57" font-size="7" fill="#2a2a2a" stroke="#2a2a2a" stroke-width="0.12" textLength="51.3" lengthAdjust="spacingAndGlyphs">IL-1beta (100%)</text>
<line x1="99.55" y1="279.1" x2="107.95" y2="279.1" stroke="#0f4c81" stroke-width="1.4" />
<rect x="102.14" y="277.49" width="3.23" height="3.23" fill="#0f4c81"/>
<text x="111.15" y="281.27" font-size="7" fill="#2a2a2a" stroke="#2a2a2a" stroke-width="0.12" textLength="41.7" lengthAdjust="spacingAndGlyphs">+1 nM (95%)</text>
<line x1="99.55" y1="288.9" x2="107.95" y2="288.9" stroke="#3bb54a" stroke-width="1.4" />
<path d="M103.75 286.69L105.96 290.56L101.54 290.56Z" fill="#3bb54a"/>
<text x="111.15" y="291.07" font-size="7" fill="#2a2a2a" stroke="#2a2a2a" stroke-width="0.12" textLength="45.7" lengthAdjust="spacingAndGlyphs">+10 nM (80%)</text>
<line x1="99.55" y1="298.6" x2="107.95" y2="298.6" stroke="#4f1f7f" stroke-width="1.4" />
<path d="M103.75 300.81L105.96 296.94L101.54 296.94Z" fill="#4f1f7f"/>
<text x="111.15" y="300.77" font-size="7" fill="#2a2a2a" stroke="#2a2a2a" stroke-width="0.12" textLength="50.5" lengthAdjust="spacingAndGlyphs">+100 nM (71%)</text>
<line x1="204" y1="192.2" x2="204" y2="309.6" stroke="#2a2a2a" stroke-width="1.7" />
<line x1="203.4" y1="309" x2="334" y2="309" stroke="#2a2a2a" stroke-width="1.7" />
<line x1="200.2" y1="309" x2="204" y2="309" stroke="#2a2a2a" stroke-width="1.1" />
<text x="197.6" y="311.88" font-size="9.3" text-anchor="end" fill="#2a2a2a" stroke="#2a2a2a" stroke-width="0.2" textLength="3.9" lengthAdjust="spacingAndGlyphs">0</text>
<line x1="200.2" y1="286.7" x2="204" y2="286.7" stroke="#2a2a2a" stroke-width="1.1" />
<text x="197.6" y="289.58" font-size="9.3" text-anchor="end" fill="#2a2a2a" stroke="#2a2a2a" stroke-width="0.2" textLength="8.1" lengthAdjust="spacingAndGlyphs">10</text>
<line x1="200.2" y1="264.4" x2="204" y2="264.4" stroke="#2a2a2a" stroke-width="1.1" />
<text x="197.6" y="267.28" font-size="9.3" text-anchor="end" fill="#2a2a2a" stroke="#2a2a2a" stroke-width="0.2" textLength="8.1" lengthAdjust="spacingAndGlyphs">20</text>
<line x1="200.2" y1="242.1" x2="204" y2="242.1" stroke="#2a2a2a" stroke-width="1.1" />
<text x="197.6" y="244.98" font-size="9.3" text-anchor="end" fill="#2a2a2a" stroke="#2a2a2a" stroke-width="0.2" textLength="8.1" lengthAdjust="spacingAndGlyphs">30</text>
<line x1="200.2" y1="219.8" x2="204" y2="219.8" stroke="#2a2a2a" stroke-width="1.1" />
<text x="197.6" y="222.68" font-size="9.3" text-anchor="end" fill="#2a2a2a" stroke="#2a2a2a" stroke-width="0.2" textLength="8.1" lengthAdjust="spacingAndGlyphs">40</text>
<line x1="200.2" y1="197.5" x2="204" y2="197.5" stroke="#2a2a2a" stroke-width="1.1" />
<text x="197.6" y="200.38" font-size="9.3" text-anchor="end" fill="#2a2a2a" stroke="#2a2a2a" stroke-width="0.2" textLength="8.1" lengthAdjust="spacingAndGlyphs">50</text>
<line x1="204" y1="309" x2="204" y2="312.5" stroke="#2a2a2a" stroke-width="1.1" />
<text x="204" y="322.49" font-size="9" text-anchor="middle" fill="#2a2a2a" stroke="#2a2a2a" stroke-width="0.2" textLength="3.9" lengthAdjust="spacingAndGlyphs">0</text>
<line x1="217.95" y1="309" x2="217.95" y2="312.5" stroke="#2a2a2a" stroke-width="1.1" />
<text x="217.95" y="322.49" font-size="9" text-anchor="middle" fill="#2a2a2a" stroke="#2a2a2a" stroke-width="0.2" textLength="7.4" lengthAdjust="spacingAndGlyphs">30</text>
<line x1="231.9" y1="309" x2="231.9" y2="312.5" stroke="#2a2a2a" stroke-width="1.1" />
<text x="231.9" y="322.49" font-size="9" text-anchor="middle" fill="#2a2a2a" stroke="#2a2a2a" stroke-width="0.2" textLength="7.4" lengthAdjust="spacingAndGlyphs">60</text>
<line x1="245.85" y1="309" x2="245.85" y2="312.5" stroke="#2a2a2a" stroke-width="1.1" />
<text x="245.85" y="322.49" font-size="9" text-anchor="middle" fill="#2a2a2a" stroke="#2a2a2a" stroke-width="0.2" textLength="7.4" lengthAdjust="spacingAndGlyphs">90</text>
<line x1="259.8" y1="309" x2="259.8" y2="312.5" stroke="#2a2a2a" stroke-width="1.1" />
<text x="259.8" y="322.49" font-size="9" text-anchor="middle" fill="#2a2a2a" stroke="#2a2a2a" stroke-width="0.2" textLength="10.4" lengthAdjust="spacingAndGlyphs">120</text>
<line x1="273.75" y1="309" x2="273.75" y2="312.5" stroke="#2a2a2a" stroke-width="1.1" />
<text x="273.75" y="322.49" font-size="9" text-anchor="middle" fill="#2a2a2a" stroke="#2a2a2a" stroke-width="0.2" textLength="10.4" lengthAdjust="spacingAndGlyphs">150</text>
<line x1="287.7" y1="309" x2="287.7" y2="312.5" stroke="#2a2a2a" stroke-width="1.1" />
<text x="287.7" y="322.49" font-size="9" text-anchor="middle" fill="#2a2a2a" stroke="#2a2a2a" stroke-width="0.2" textLength="10.4" lengthAdjust="spacingAndGlyphs">180</text>
<line x1="301.65" y1="309" x2="301.65" y2="312.5" stroke="#2a2a2a" stroke-width="1.1" />
<text x="301.65" y="322.49" font-size="9" text-anchor="middle" fill="#2a2a2a" stroke="#2a2a2a" stroke-width="0.2" textLength="10.4" lengthAdjust="spacingAndGlyphs">210</text>
<line x1="315.6" y1="309" x2="315.6" y2="312.5" stroke="#2a2a2a" stroke-width="1.1" />
<text x="315.6" y="322.49" font-size="9" text-anchor="middle" fill="#2a2a2a" stroke="#2a2a2a" stroke-width="0.2" textLength="10.4" lengthAdjust="spacingAndGlyphs">240</text>
<text x="269.4" y="335.87" font-size="9.9" text-anchor="middle" fill="#2a2a2a" stroke="#2a2a2a" stroke-width="0.2" textLength="35.8" lengthAdjust="spacingAndGlyphs">Time (min)</text>
<text x="181.1" y="252.93" font-size="8.8" text-anchor="middle" fill="#2a2a2a" stroke="#2a2a2a" stroke-width="0.2" textLength="65.4" lengthAdjust="spacingAndGlyphs" transform="rotate(-90 181.1 250.2)">% Extracellular DNA</text>
<text x="269" y="199.47" font-size="9.9" text-anchor="middle" fill="#2a2a2a" stroke="#2a2a2a" stroke-width="0.2" textLength="20.4" lengthAdjust="spacingAndGlyphs">RvT4</text>
<polyline points="204,309 217.95,297.85 231.9,275.55 245.85,268.86 259.8,266.63 273.75,266.63 287.7,259.94 301.65,257.71 315.6,259.94" fill="none" stroke="#4f1f7f" stroke-width="1.5" stroke-linejoin="round"/>
<polyline points="204,309 217.95,288.93 231.9,284.47 245.85,271.09 259.8,264.4 273.75,264.4 287.7,255.48 301.65,251.02 315.6,251.02" fill="none" stroke="#3bb54a" stroke-width="1.5" stroke-linejoin="round"/>
<polyline points="204,309 217.95,277.78 231.9,264.4 245.85,253.25 259.8,237.64 273.75,246.56 287.7,239.87 301.65,235.41 315.6,235.41" fill="none" stroke="#0f4c81" stroke-width="1.5" stroke-linejoin="round"/>
<polyline points="204,309 217.95,275.55 231.9,264.4 245.85,246.56 259.8,224.26 273.75,235.41 287.7,217.57 301.65,217.57 315.6,215.34" fill="none" stroke="#c8102e" stroke-width="1.5" stroke-linejoin="round"/>
<path d="M204 311.47L206.47 307.15L201.53 307.15Z" fill="#4f1f7f"/>
<path d="M217.95 300.32L220.42 296L215.48 296Z" fill="#4f1f7f"/>
<path d="M231.9 278.02L234.37 273.7L229.43 273.7Z" fill="#4f1f7f"/>
<path d="M245.85 271.33L248.32 267.01L243.38 267.01Z" fill="#4f1f7f"/>
<path d="M259.8 269.1L262.27 264.78L257.33 264.78Z" fill="#4f1f7f"/>
<path d="M273.75 269.1L276.22 264.78L271.28 264.78Z" fill="#4f1f7f"/>
<path d="M287.7 262.41L290.17 258.09L285.23 258.09Z" fill="#4f1f7f"/>
<path d="M301.65 260.18L304.12 255.86L299.18 255.86Z" fill="#4f1f7f"/>
<path d="M315.6 262.41L318.07 258.09L313.13 258.09Z" fill="#4f1f7f"/>
<path d="M204 306.53L206.47 310.85L201.53 310.85Z" fill="#3bb54a"/>
<path d="M217.95 286.46L220.42 290.78L215.48 290.78Z" fill="#3bb54a"/>
<path d="M231.9 282L234.37 286.32L229.43 286.32Z" fill="#3bb54a"/>
<path d="M245.85 268.62L248.32 272.94L243.38 272.94Z" fill="#3bb54a"/>
<path d="M259.8 261.93L262.27 266.25L257.33 266.25Z" fill="#3bb54a"/>
<path d="M273.75 261.93L276.22 266.25L271.28 266.25Z" fill="#3bb54a"/>
<path d="M287.7 253.01L290.17 257.33L285.23 257.33Z" fill="#3bb54a"/>
<path d="M301.65 248.55L304.12 252.87L299.18 252.87Z" fill="#3bb54a"/>
<path d="M315.6 248.55L318.07 252.87L313.13 252.87Z" fill="#3bb54a"/>
<rect x="202.19" y="307.19" width="3.61" height="3.61" fill="#0f4c81"/>
<rect x="216.14" y="275.97" width="3.61" height="3.61" fill="#0f4c81"/>
<rect x="230.09" y="262.59" width="3.61" height="3.61" fill="#0f4c81"/>
<rect x="244.04" y="251.44" width="3.61" height="3.61" fill="#0f4c81"/>
<rect x="258" y="235.83" width="3.61" height="3.61" fill="#0f4c81"/>
<rect x="271.94" y="244.75" width="3.61" height="3.61" fill="#0f4c81"/>
<rect x="285.89" y="238.06" width="3.61" height="3.61" fill="#0f4c81"/>
<rect x="299.84" y="233.6" width="3.61" height="3.61" fill="#0f4c81"/>
<rect x="313.8" y="233.6" width="3.61" height="3.61" fill="#0f4c81"/>
<circle cx="204" cy="309" r="1.99" fill="#c8102e"/>
<circle cx="217.95" cy="275.55" r="1.99" fill="#c8102e"/>
<circle cx="231.9" cy="264.4" r="1.99" fill="#c8102e"/>
<circle cx="245.85" cy="246.56" r="1.99" fill="#c8102e"/>
<circle cx="259.8" cy="224.26" r="1.99" fill="#c8102e"/>
<circle cx="273.75" cy="235.41" r="1.99" fill="#c8102e"/>
<circle cx="287.7" cy="217.57" r="1.99" fill="#c8102e"/>
<circle cx="301.65" cy="217.57" r="1.99" fill="#c8102e"/>
<circle cx="315.6" cy="215.34" r="1.99" fill="#c8102e"/>
<line x1="272.1" y1="272.8" x2="280.5" y2="272.8" stroke="#c8102e" stroke-width="1.4" />
<circle cx="276.3" cy="272.8" r="1.78" fill="#c8102e"/>
<text x="283.85" y="274.97" font-size="7" fill="#2a2a2a" stroke="#2a2a2a" stroke-width="0.12" textLength="51.3" lengthAdjust="spacingAndGlyphs">IL-1beta (100%)</text>
<line x1="272.1" y1="282.6" x2="280.5" y2="282.6" stroke="#0f4c81" stroke-width="1.4" />
<rect x="274.69" y="280.99" width="3.23" height="3.23" fill="#0f4c81"/>
<text x="283.85" y="284.77" font-size="7" fill="#2a2a2a" stroke="#2a2a2a" stroke-width="0.12" textLength="41.7" lengthAdjust="spacingAndGlyphs">+1 nM (78%)</text>
<line x1="272.1" y1="292.55" x2="280.5" y2="292.55" stroke="#3bb54a" stroke-width="1.4" />
<path d="M276.3 290.34L278.51 294.21L274.09 294.21Z" fill="#3bb54a"/>
<text x="283.85" y="294.72" font-size="7" fill="#2a2a2a" stroke="#2a2a2a" stroke-width="0.12" textLength="45.7" lengthAdjust="spacingAndGlyphs">+10 nM (62%)</text>
<line x1="272.1" y1="302.1" x2="280.5" y2="302.1" stroke="#4f1f7f" stroke-width="1.4" />
<path d="M276.3 304.31L278.51 300.44L274.09 300.44Z" fill="#4f1f7f"/>
<text x="283.85" y="304.27" font-size="7" fill="#2a2a2a" stroke="#2a2a2a" stroke-width="0.12" textLength="50.5" lengthAdjust="spacingAndGlyphs">+100 nM (52%)</text>
<text x="353.4" y="191.8" font-size="11.3" fill="#000" stroke="#000" stroke-width="0.45" font-weight="bold">B</text>
<line x1="381.1" y1="199.9" x2="381.1" y2="309.2" stroke="#2a2a2a" stroke-width="1.7" />
<line x1="380.5" y1="308.6" x2="508.1" y2="308.6" stroke="#2a2a2a" stroke-width="1.7" />
<line x1="377.3" y1="308.6" x2="381.1" y2="308.6" stroke="#2a2a2a" stroke-width="1.1" />
<text x="374.7" y="311.11" font-size="8.1" text-anchor="end" fill="#2a2a2a" stroke="#2a2a2a" stroke-width="0.2" textLength="3.9" lengthAdjust="spacingAndGlyphs">0</text>
<line x1="377.3" y1="284.15" x2="381.1" y2="284.15" stroke="#2a2a2a" stroke-width="1.1" />
<text x="374.7" y="286.66" font-size="8.1" text-anchor="end" fill="#2a2a2a" stroke="#2a2a2a" stroke-width="0.2" textLength="8.1" lengthAdjust="spacingAndGlyphs">10</text>
<line x1="377.3" y1="259.7" x2="381.1" y2="259.7" stroke="#2a2a2a" stroke-width="1.1" />
<text x="374.7" y="262.21" font-size="8.1" text-anchor="end" fill="#2a2a2a" stroke="#2a2a2a" stroke-width="0.2" textLength="8.1" lengthAdjust="spacingAndGlyphs">20</text>
<line x1="377.3" y1="235.25" x2="381.1" y2="235.25" stroke="#2a2a2a" stroke-width="1.1" />
<text x="374.7" y="237.76" font-size="8.1" text-anchor="end" fill="#2a2a2a" stroke="#2a2a2a" stroke-width="0.2" textLength="8.1" lengthAdjust="spacingAndGlyphs">30</text>
<line x1="377.3" y1="210.8" x2="381.1" y2="210.8" stroke="#2a2a2a" stroke-width="1.1" />
<text x="374.7" y="213.31" font-size="8.1" text-anchor="end" fill="#2a2a2a" stroke="#2a2a2a" stroke-width="0.2" textLength="8.1" lengthAdjust="spacingAndGlyphs">40</text>
<line x1="381.1" y1="308.6" x2="381.1" y2="312.1" stroke="#2a2a2a" stroke-width="1.1" />
<text x="381.1" y="322.07" font-size="8.6" text-anchor="middle" fill="#2a2a2a" stroke="#2a2a2a" stroke-width="0.2" textLength="4.3" lengthAdjust="spacingAndGlyphs">0</text>
<line x1="405.65" y1="308.6" x2="405.65" y2="312.1" stroke="#2a2a2a" stroke-width="1.1" />
<text x="405.65" y="322.07" font-size="8.6" text-anchor="middle" fill="#2a2a2a" stroke="#2a2a2a" stroke-width="0.2" textLength="8.2" lengthAdjust="spacingAndGlyphs">60</text>
<line x1="430.2" y1="308.6" x2="430.2" y2="312.1" stroke="#2a2a2a" stroke-width="1.1" />
<text x="430.2" y="322.07" font-size="8.6" text-anchor="middle" fill="#2a2a2a" stroke="#2a2a2a" stroke-width="0.2" textLength="12.1" lengthAdjust="spacingAndGlyphs">120</text>
<line x1="454.75" y1="308.6" x2="454.75" y2="312.1" stroke="#2a2a2a" stroke-width="1.1" />
<text x="454.75" y="322.07" font-size="8.6" text-anchor="middle" fill="#2a2a2a" stroke="#2a2a2a" stroke-width="0.2" textLength="12.1" lengthAdjust="spacingAndGlyphs">180</text>
<line x1="479.3" y1="308.6" x2="479.3" y2="312.1" stroke="#2a2a2a" stroke-width="1.1" />
<text x="479.3" y="322.07" font-size="8.6" text-anchor="middle" fill="#2a2a2a" stroke="#2a2a2a" stroke-width="0.2" textLength="12.1" lengthAdjust="spacingAndGlyphs">240</text>
<text x="444.2" y="334.21" font-size="9.4" text-anchor="middle" fill="#2a2a2a" stroke="#2a2a2a" stroke-width="0.2" textLength="36.3" lengthAdjust="spacingAndGlyphs">Time (min)</text>
<text x="358.2" y="252.53" font-size="8.8" text-anchor="middle" fill="#2a2a2a" stroke="#2a2a2a" stroke-width="0.2" textLength="65.4" lengthAdjust="spacingAndGlyphs" transform="rotate(-90 358.2 249.8)">% Extracellular DNA</text>
<line x1="430.2" y1="300.04" x2="430.2" y2="289.77" stroke="#0f4c81" stroke-width="1" />
<line x1="428" y1="300.04" x2="432.4" y2="300.04" stroke="#0f4c81" stroke-width="1" />
<line x1="428" y1="289.77" x2="432.4" y2="289.77" stroke="#0f4c81" stroke-width="1" />
<line x1="454.75" y1="304.32" x2="454.75" y2="280.36" stroke="#0f4c81" stroke-width="1" />
<line x1="452.55" y1="304.32" x2="456.95" y2="304.32" stroke="#0f4c81" stroke-width="1" />
<line x1="452.55" y1="280.36" x2="456.95" y2="280.36" stroke="#0f4c81" stroke-width="1" />
<line x1="479.3" y1="295.52" x2="479.3" y2="271.56" stroke="#0f4c81" stroke-width="1" />
<line x1="477.1" y1="295.52" x2="481.5" y2="295.52" stroke="#0f4c81" stroke-width="1" />
<line x1="477.1" y1="271.56" x2="481.5" y2="271.56" stroke="#0f4c81" stroke-width="1" />
<polyline points="381.1,308.6 405.65,298.82 430.2,294.91 454.75,292.34 479.3,283.54" fill="none" stroke="#0f4c81" stroke-width="1.6" stroke-linejoin="round"/>
<circle cx="381.1" cy="308.6" r="2.31" fill="#0f4c81"/>
<circle cx="405.65" cy="298.82" r="2.31" fill="#0f4c81"/>
<circle cx="430.2" cy="294.91" r="2.31" fill="#0f4c81"/>
<circle cx="454.75" cy="292.34" r="2.31" fill="#0f4c81"/>
<circle cx="479.3" cy="283.54" r="2.31" fill="#0f4c81"/>
<line x1="405.65" y1="292.46" x2="405.65" y2="283.66" stroke="#c8102e" stroke-width="1" />
<line x1="403.45" y1="292.46" x2="407.85" y2="292.46" stroke="#c8102e" stroke-width="1" />
<line x1="403.45" y1="283.66" x2="407.85" y2="283.66" stroke="#c8102e" stroke-width="1" />
<line x1="430.2" y1="283.17" x2="430.2" y2="255.79" stroke="#c8102e" stroke-width="1" />
<line x1="428" y1="283.17" x2="432.4" y2="283.17" stroke="#c8102e" stroke-width="1" />
<line x1="428" y1="255.79" x2="432.4" y2="255.79" stroke="#c8102e" stroke-width="1" />
<line x1="454.75" y1="266.55" x2="454.75" y2="247.48" stroke="#c8102e" stroke-width="1" />
<line x1="452.55" y1="266.55" x2="456.95" y2="266.55" stroke="#c8102e" stroke-width="1" />
<line x1="452.55" y1="247.48" x2="456.95" y2="247.48" stroke="#c8102e" stroke-width="1" />
<line x1="479.3" y1="243.56" x2="479.3" y2="231.34" stroke="#c8102e" stroke-width="1" />
<line x1="477.1" y1="243.56" x2="481.5" y2="243.56" stroke="#c8102e" stroke-width="1" />
<line x1="477.1" y1="231.34" x2="481.5" y2="231.34" stroke="#c8102e" stroke-width="1" />
<polyline points="381.1,305.67 405.65,288.06 430.2,269.48 454.75,257.01 479.3,237.45" fill="none" stroke="#c8102e" stroke-width="1.6" stroke-linejoin="round"/>
<rect x="379.01" y="303.58" width="4.18" height="4.18" fill="#c8102e"/>
<rect x="403.56" y="285.97" width="4.18" height="4.18" fill="#c8102e"/>
<rect x="428.11" y="267.39" width="4.18" height="4.18" fill="#c8102e"/>
<rect x="452.66" y="254.92" width="4.18" height="4.18" fill="#c8102e"/>
<rect x="477.21" y="235.36" width="4.18" height="4.18" fill="#c8102e"/>
<path d="M454.75 241.95V244.71M453.37 242.89L456.13 242.89M453.88 244.56L454.75 243.25L455.62 244.56" stroke="#231f20" stroke-width="0.8" fill="none"/>
<path d="M479.3 225.85V228.61M477.92 226.79L480.68 226.79M478.43 228.46L479.3 227.16L480.17 228.46" stroke="#231f20" stroke-width="0.8" fill="none"/>
<text x="460.8" y="220.02" font-size="7.8" fill="#c8102e" stroke="#c8102e" stroke-width="0.1" textLength="38.4" lengthAdjust="spacingAndGlyphs">PMN+IL-1β</text>
<text x="462.1" y="304.62" font-size="7.8" fill="#0f4c81" stroke="#0f4c81" stroke-width="0.1" textLength="46" lengthAdjust="spacingAndGlyphs">PMN+ vehicle</text>
<text x="7.5" y="361.5" font-size="11.3" fill="#000" stroke="#000" stroke-width="0.45" font-weight="bold">C</text>
<line x1="41.4" y1="367.3" x2="41.4" y2="495.8" stroke="#231f20" stroke-width="1.1" />
<line x1="40.9" y1="495.3" x2="231.8" y2="495.3" stroke="#231f20" stroke-width="1.1" />
<line x1="38.1" y1="495.3" x2="41.4" y2="495.3" stroke="#231f20" stroke-width="0.9" />
<text x="35" y="498.09" font-size="9" text-anchor="end" fill="#2a2a2a" stroke="#2a2a2a" stroke-width="0.2" textLength="3.9" lengthAdjust="spacingAndGlyphs">0</text>
<line x1="38.1" y1="464.54" x2="41.4" y2="464.54" stroke="#231f20" stroke-width="0.9" />
<text x="35" y="467.33" font-size="9" text-anchor="end" fill="#2a2a2a" stroke="#2a2a2a" stroke-width="0.2" textLength="8.1" lengthAdjust="spacingAndGlyphs">10</text>
<line x1="38.1" y1="433.78" x2="41.4" y2="433.78" stroke="#231f20" stroke-width="0.9" />
<text x="35" y="436.57" font-size="9" text-anchor="end" fill="#2a2a2a" stroke="#2a2a2a" stroke-width="0.2" textLength="8.1" lengthAdjust="spacingAndGlyphs">20</text>
<line x1="38.1" y1="403.02" x2="41.4" y2="403.02" stroke="#231f20" stroke-width="0.9" />
<text x="35" y="405.81" font-size="9" text-anchor="end" fill="#2a2a2a" stroke="#2a2a2a" stroke-width="0.2" textLength="8.1" lengthAdjust="spacingAndGlyphs">30</text>
<line x1="38.1" y1="372.26" x2="41.4" y2="372.26" stroke="#231f20" stroke-width="0.9" />
<text x="35" y="375.05" font-size="9" text-anchor="end" fill="#2a2a2a" stroke="#2a2a2a" stroke-width="0.2" textLength="8.1" lengthAdjust="spacingAndGlyphs">40</text>
<text x="17.5" y="433.87" font-size="8.6" text-anchor="middle" fill="#2a2a2a" stroke="#2a2a2a" stroke-width="0.2" textLength="41.3" lengthAdjust="spacingAndGlyphs" transform="rotate(-90 17.5 431.2)">% Reduction</text>
<line x1="48.2" y1="447.31" x2="48.2" y2="429.17" stroke="#333" stroke-width="0.9" />
<line x1="46.8" y1="429.17" x2="49.6" y2="429.17" stroke="#333" stroke-width="1.2" />
<rect x="45.4" y="447.31" width="5.6" height="47.99" fill="#c8102e"/>
<path d="M48.2 423.08V425.97M46.75 424.07L49.65 424.07M47.29 425.82L48.2 424.45L49.11 425.82" stroke="#231f20" stroke-width="0.84" fill="none"/>
<line x1="58.45" y1="419.02" x2="58.45" y2="408.56" stroke="#333" stroke-width="0.9" />
<line x1="57.05" y1="408.56" x2="59.85" y2="408.56" stroke="#333" stroke-width="1.2" />
<rect x="55.65" y="419.02" width="5.6" height="76.28" fill="#0f4c81"/>
<path d="M54.83 402.68V405.57M53.38 403.67L56.27 403.67M53.91 405.42L54.83 404.05L55.74 405.42" stroke="#231f20" stroke-width="0.84" fill="none"/>
<path d="M58.45 402.68V405.57M57 403.67L59.9 403.67M57.54 405.42L58.45 404.05L59.36 405.42" stroke="#231f20" stroke-width="0.84" fill="none"/>
<path d="M62.07 402.68V405.57M60.63 403.67L63.52 403.67M61.16 405.42L62.07 404.05L62.99 405.42" stroke="#231f20" stroke-width="0.84" fill="none"/>
<line x1="68.7" y1="425.78" x2="68.7" y2="410.09" stroke="#333" stroke-width="0.9" />
<line x1="67.3" y1="410.09" x2="70.1" y2="410.09" stroke="#333" stroke-width="1.2" />
<rect x="65.9" y="425.78" width="5.6" height="69.52" fill="#3bb54a"/>
<path d="M65.08 404.68V407.57M63.63 405.67L66.52 405.67M64.16 407.42L65.08 406.05L65.99 407.42" stroke="#231f20" stroke-width="0.84" fill="none"/>
<path d="M68.7 404.68V407.57M67.25 405.67L70.15 405.67M67.79 407.42L68.7 406.05L69.61 407.42" stroke="#231f20" stroke-width="0.84" fill="none"/>
<path d="M72.32 404.68V407.57M70.88 405.67L73.77 405.67M71.41 407.42L72.32 406.05L73.24 407.42" stroke="#231f20" stroke-width="0.84" fill="none"/>
<line x1="58.6" y1="495.3" x2="58.6" y2="498.7" stroke="#231f20" stroke-width="0.9" />
<text x="58.6" y="508.09" font-size="9" text-anchor="middle" fill="#2a2a2a" stroke="#2a2a2a" stroke-width="0.2" textLength="16.4" lengthAdjust="spacingAndGlyphs">RvT1</text>
<line x1="85.7" y1="456.85" x2="85.7" y2="439.62" stroke="#333" stroke-width="0.9" />
<line x1="84.3" y1="439.62" x2="87.1" y2="439.62" stroke="#333" stroke-width="1.2" />
<rect x="82.9" y="456.85" width="5.6" height="38.45" fill="#c8102e"/>
<line x1="95.95" y1="427.32" x2="95.95" y2="414.71" stroke="#333" stroke-width="0.9" />
<line x1="94.55" y1="414.71" x2="97.35" y2="414.71" stroke="#333" stroke-width="1.2" />
<rect x="93.15" y="427.32" width="5.6" height="67.98" fill="#0f4c81"/>
<path d="M94.14 409.28V412.17M92.69 410.27L95.59 410.27M93.23 412.02L94.14 410.65L95.05 412.02" stroke="#231f20" stroke-width="0.84" fill="none"/>
<path d="M97.76 409.28V412.17M96.31 410.27L99.21 410.27M96.85 412.02L97.76 410.65L98.67 412.02" stroke="#231f20" stroke-width="0.84" fill="none"/>
<line x1="106.2" y1="409.17" x2="106.2" y2="384.26" stroke="#333" stroke-width="0.9" />
<line x1="104.8" y1="384.26" x2="107.6" y2="384.26" stroke="#333" stroke-width="1.2" />
<rect x="103.4" y="409.17" width="5.6" height="86.13" fill="#3bb54a"/>
<path d="M100.77 377.68V380.57M99.32 378.67L102.21 378.67M99.85 380.42L100.77 379.05L101.68 380.42" stroke="#231f20" stroke-width="0.84" fill="none"/>
<path d="M104.39 377.68V380.57M102.94 378.67L105.84 378.67M103.48 380.42L104.39 379.05L105.3 380.42" stroke="#231f20" stroke-width="0.84" fill="none"/>
<path d="M108.01 377.68V380.57M106.56 378.67L109.46 378.67M107.1 380.42L108.01 379.05L108.92 380.42" stroke="#231f20" stroke-width="0.84" fill="none"/>
<path d="M111.63 377.68V380.57M110.19 378.67L113.08 378.67M110.72 380.42L111.63 379.05L112.55 380.42" stroke="#231f20" stroke-width="0.84" fill="none"/>
<path d="M106.2 368.67L105.61 373.93M107.79 368.67L107.2 373.93M104.77 370.51H108.63M104.77 372.22H108.63" stroke="#231f20" stroke-width="0.84" fill="none"/>
<line x1="96.1" y1="495.3" x2="96.1" y2="498.7" stroke="#231f20" stroke-width="0.9" />
<text x="96.1" y="508.09" font-size="9" text-anchor="middle" fill="#2a2a2a" stroke="#2a2a2a" stroke-width="0.2" textLength="16.4" lengthAdjust="spacingAndGlyphs">RvT2</text>
<line x1="123.2" y1="470.08" x2="123.2" y2="454.39" stroke="#333" stroke-width="0.9" />
<line x1="121.8" y1="454.39" x2="124.6" y2="454.39" stroke="#333" stroke-width="1.2" />
<rect x="120.4" y="470.08" width="5.6" height="25.22" fill="#c8102e"/>
<line x1="133.45" y1="451.01" x2="133.45" y2="436.86" stroke="#333" stroke-width="0.9" />
<line x1="132.05" y1="436.86" x2="134.85" y2="436.86" stroke="#333" stroke-width="1.2" />
<rect x="130.65" y="451.01" width="5.6" height="44.29" fill="#0f4c81"/>
<line x1="143.7" y1="414.4" x2="143.7" y2="399.64" stroke="#333" stroke-width="0.9" />
<line x1="142.3" y1="399.64" x2="145.1" y2="399.64" stroke="#333" stroke-width="1.2" />
<rect x="140.9" y="414.4" width="5.6" height="80.9" fill="#3bb54a"/>
<path d="M138.27 392.68V395.57M136.82 393.67L139.71 393.67M137.35 395.42L138.27 394.05L139.18 395.42" stroke="#231f20" stroke-width="0.84" fill="none"/>
<path d="M141.89 392.68V395.57M140.44 393.67L143.34 393.67M140.98 395.42L141.89 394.05L142.8 395.42" stroke="#231f20" stroke-width="0.84" fill="none"/>
<path d="M145.51 392.68V395.57M144.06 393.67L146.96 393.67M144.6 395.42L145.51 394.05L146.42 395.42" stroke="#231f20" stroke-width="0.84" fill="none"/>
<path d="M149.13 392.68V395.57M147.69 393.67L150.58 393.67M148.22 395.42L149.13 394.05L150.05 395.42" stroke="#231f20" stroke-width="0.84" fill="none"/>
<path d="M143.7 383.17L143.11 388.43M145.29 383.17L144.7 388.43M142.27 385.01H146.13M142.27 386.72H146.13" stroke="#231f20" stroke-width="0.84" fill="none"/>
<line x1="133.6" y1="495.3" x2="133.6" y2="498.7" stroke="#231f20" stroke-width="0.9" />
<text x="133.6" y="508.09" font-size="9" text-anchor="middle" fill="#2a2a2a" stroke="#2a2a2a" stroke-width="0.2" textLength="16.4" lengthAdjust="spacingAndGlyphs">RvT3</text>
<line x1="160.7" y1="446.08" x2="160.7" y2="432.55" stroke="#333" stroke-width="0.9" />
<line x1="159.3" y1="432.55" x2="162.1" y2="432.55" stroke="#333" stroke-width="1.2" />
<rect x="157.9" y="446.08" width="5.6" height="49.22" fill="#c8102e"/>
<path d="M160.7 427.28V430.17M159.25 428.27L162.15 428.27M159.79 430.02L160.7 428.65L161.61 430.02" stroke="#231f20" stroke-width="0.84" fill="none"/>
<line x1="170.95" y1="421.48" x2="170.95" y2="408.25" stroke="#333" stroke-width="0.9" />
<line x1="169.55" y1="408.25" x2="172.35" y2="408.25" stroke="#333" stroke-width="1.2" />
<rect x="168.15" y="421.48" width="5.6" height="73.82" fill="#0f4c81"/>
<path d="M167.33 402.68V405.57M165.88 403.67L168.77 403.67M166.41 405.42L167.33 404.05L168.24 405.42" stroke="#231f20" stroke-width="0.84" fill="none"/>
<path d="M170.95 402.68V405.57M169.5 403.67L172.4 403.67M170.04 405.42L170.95 404.05L171.86 405.42" stroke="#231f20" stroke-width="0.84" fill="none"/>
<path d="M174.57 402.68V405.57M173.13 403.67L176.02 403.67M173.66 405.42L174.57 404.05L175.49 405.42" stroke="#231f20" stroke-width="0.84" fill="none"/>
<line x1="181.2" y1="417.48" x2="181.2" y2="396.87" stroke="#333" stroke-width="0.9" />
<line x1="179.8" y1="396.87" x2="182.6" y2="396.87" stroke="#333" stroke-width="1.2" />
<rect x="178.4" y="417.48" width="5.6" height="77.82" fill="#3bb54a"/>
<path d="M175.77 391.98V394.87M174.32 392.97L177.21 392.97M174.85 394.72L175.77 393.35L176.68 394.72" stroke="#231f20" stroke-width="0.84" fill="none"/>
<path d="M179.39 391.98V394.87M177.94 392.97L180.84 392.97M178.48 394.72L179.39 393.35L180.3 394.72" stroke="#231f20" stroke-width="0.84" fill="none"/>
<path d="M183.01 391.98V394.87M181.56 392.97L184.46 392.97M182.1 394.72L183.01 393.35L183.92 394.72" stroke="#231f20" stroke-width="0.84" fill="none"/>
<path d="M186.63 391.98V394.87M185.19 392.97L188.08 392.97M185.72 394.72L186.63 393.35L187.55 394.72" stroke="#231f20" stroke-width="0.84" fill="none"/>
<line x1="171.1" y1="495.3" x2="171.1" y2="498.7" stroke="#231f20" stroke-width="0.9" />
<text x="171.1" y="508.09" font-size="9" text-anchor="middle" fill="#2a2a2a" stroke="#2a2a2a" stroke-width="0.2" textLength="16.4" lengthAdjust="spacingAndGlyphs">RvT4</text>
<line x1="198.2" y1="446.7" x2="198.2" y2="436.86" stroke="#333" stroke-width="0.9" />
<line x1="196.8" y1="436.86" x2="199.6" y2="436.86" stroke="#333" stroke-width="1.2" />
<rect x="195.4" y="446.7" width="5.6" height="48.6" fill="#c8102e"/>
<path d="M198.2 431.73V434.62M196.75 432.72L199.65 432.72M197.29 434.47L198.2 433.1L199.11 434.47" stroke="#231f20" stroke-width="0.84" fill="none"/>
<line x1="208.45" y1="399.33" x2="208.45" y2="386.72" stroke="#333" stroke-width="0.9" />
<line x1="207.05" y1="386.72" x2="209.85" y2="386.72" stroke="#333" stroke-width="1.2" />
<rect x="205.65" y="399.33" width="5.6" height="95.97" fill="#0f4c81"/>
<path d="M203.02 381.78V384.67M201.57 382.77L204.46 382.77M202.1 384.52L203.02 383.15L203.93 384.52" stroke="#231f20" stroke-width="0.84" fill="none"/>
<path d="M206.64 381.78V384.67M205.19 382.77L208.09 382.77M205.73 384.52L206.64 383.15L207.55 384.52" stroke="#231f20" stroke-width="0.84" fill="none"/>
<path d="M210.26 381.78V384.67M208.81 382.77L211.71 382.77M209.35 384.52L210.26 383.15L211.17 384.52" stroke="#231f20" stroke-width="0.84" fill="none"/>
<path d="M213.88 381.78V384.67M212.44 382.77L215.33 382.77M212.97 384.52L213.88 383.15L214.8 384.52" stroke="#231f20" stroke-width="0.84" fill="none"/>
<line x1="218.7" y1="397.79" x2="218.7" y2="384.87" stroke="#333" stroke-width="0.9" />
<line x1="217.3" y1="384.87" x2="220.1" y2="384.87" stroke="#333" stroke-width="1.2" />
<rect x="215.9" y="397.79" width="5.6" height="97.51" fill="#3bb54a"/>
<path d="M213.27 376.38V379.27M211.82 377.37L214.71 377.37M212.35 379.12L213.27 377.75L214.18 379.12" stroke="#231f20" stroke-width="0.84" fill="none"/>
<path d="M216.89 376.38V379.27M215.44 377.37L218.34 377.37M215.98 379.12L216.89 377.75L217.8 379.12" stroke="#231f20" stroke-width="0.84" fill="none"/>
<path d="M220.51 376.38V379.27M219.06 377.37L221.96 377.37M219.6 379.12L220.51 377.75L221.42 379.12" stroke="#231f20" stroke-width="0.84" fill="none"/>
<path d="M224.13 376.38V379.27M222.69 377.37L225.58 377.37M223.22 379.12L224.13 377.75L225.05 379.12" stroke="#231f20" stroke-width="0.84" fill="none"/>
<path d="M218.7 367.17L218.11 372.43M220.29 367.17L219.7 372.43M217.27 369.01H221.13M217.27 370.72H221.13" stroke="#231f20" stroke-width="0.84" fill="none"/>
<line x1="208.6" y1="495.3" x2="208.6" y2="498.7" stroke="#231f20" stroke-width="0.9" />
<text x="208.6" y="508.09" font-size="9" text-anchor="middle" fill="#2a2a2a" stroke="#2a2a2a" stroke-width="0.2" textLength="17.3" lengthAdjust="spacingAndGlyphs">RvD2</text>
<rect x="231" y="391.4" width="13" height="4.2" fill="#c8102e"/>
<text x="247.7" y="395.86" font-size="7.6" fill="#2a2a2a" stroke="#2a2a2a" stroke-width="0.18" textLength="16.9" lengthAdjust="spacingAndGlyphs">1 nM</text>
<rect x="231" y="400.8" width="13" height="4.2" fill="#0f4c81"/>
<text x="247.7" y="405.26" font-size="7.6" fill="#2a2a2a" stroke="#2a2a2a" stroke-width="0.18" textLength="20.8" lengthAdjust="spacingAndGlyphs">10 nM</text>
<rect x="231" y="410.2" width="13" height="4.2" fill="#3bb54a"/>
<text x="247.7" y="414.66" font-size="7.6" fill="#2a2a2a" stroke="#2a2a2a" stroke-width="0.18" textLength="24.6" lengthAdjust="spacingAndGlyphs">100 nM</text>
<text x="284.5" y="361.5" font-size="11.3" fill="#000" stroke="#000" stroke-width="0.45" font-weight="bold">D</text>
<line x1="318.2" y1="366.2" x2="318.2" y2="487.7" stroke="#231f20" stroke-width="1.2" />
<line x1="317.7" y1="487.2" x2="485.9" y2="487.2" stroke="#231f20" stroke-width="1.2" />
<line x1="315" y1="487.2" x2="318.2" y2="487.2" stroke="#231f20" stroke-width="0.9" />
<text x="311.7" y="489.99" font-size="9" text-anchor="end" fill="#2a2a2a" stroke="#2a2a2a" stroke-width="0.2" textLength="3.9" lengthAdjust="spacingAndGlyphs">0</text>
<line x1="315" y1="464.03" x2="318.2" y2="464.03" stroke="#231f20" stroke-width="0.9" />
<text x="311.7" y="466.82" font-size="9" text-anchor="end" fill="#2a2a2a" stroke="#2a2a2a" stroke-width="0.2" textLength="8.1" lengthAdjust="spacingAndGlyphs">10</text>
<line x1="315" y1="440.86" x2="318.2" y2="440.86" stroke="#231f20" stroke-width="0.9" />
<text x="311.7" y="443.65" font-size="9" text-anchor="end" fill="#2a2a2a" stroke="#2a2a2a" stroke-width="0.2" textLength="8.1" lengthAdjust="spacingAndGlyphs">20</text>
<line x1="315" y1="417.69" x2="318.2" y2="417.69" stroke="#231f20" stroke-width="0.9" />
<text x="311.7" y="420.48" font-size="9" text-anchor="end" fill="#2a2a2a" stroke="#2a2a2a" stroke-width="0.2" textLength="8.1" lengthAdjust="spacingAndGlyphs">30</text>
<line x1="315" y1="394.52" x2="318.2" y2="394.52" stroke="#231f20" stroke-width="0.9" />
<text x="311.7" y="397.31" font-size="9" text-anchor="end" fill="#2a2a2a" stroke="#2a2a2a" stroke-width="0.2" textLength="8.1" lengthAdjust="spacingAndGlyphs">40</text>
<line x1="315" y1="371.35" x2="318.2" y2="371.35" stroke="#231f20" stroke-width="0.9" />
<text x="311.7" y="374.14" font-size="9" text-anchor="end" fill="#2a2a2a" stroke="#2a2a2a" stroke-width="0.2" textLength="8.1" lengthAdjust="spacingAndGlyphs">50</text>
<text x="294.1" y="429.54" font-size="8.2" text-anchor="middle" fill="#2a2a2a" stroke="#2a2a2a" stroke-width="0.2" textLength="42.3" lengthAdjust="spacingAndGlyphs" transform="rotate(-90 294.1 427)">% Reduction</text>
<line x1="335.8" y1="429.51" x2="335.8" y2="421.86" stroke="#231f20" stroke-width="1.2" />
<line x1="331.6" y1="421.86" x2="340" y2="421.86" stroke="#231f20" stroke-width="1.3" />
<rect x="327.6" y="429.51" width="16.4" height="57.69" fill="#c8102e"/>
<line x1="335.8" y1="487.2" x2="335.8" y2="490.6" stroke="#231f20" stroke-width="0.9" />
<text x="335.8" y="499.69" font-size="9" text-anchor="middle" fill="#2a2a2a" stroke="#2a2a2a" stroke-width="0.2" textLength="17.3" lengthAdjust="spacingAndGlyphs">RvT1</text>
<text x="336" y="417.73" font-size="8.8" text-anchor="middle" fill="#2a2a2a" stroke="#2a2a2a" stroke-width="0.1" textLength="15.6" lengthAdjust="spacingAndGlyphs">58%</text>
<line x1="362.35" y1="435.76" x2="362.35" y2="426.26" stroke="#231f20" stroke-width="1.2" />
<line x1="358.15" y1="426.26" x2="366.55" y2="426.26" stroke="#231f20" stroke-width="1.3" />
<rect x="354.15" y="435.76" width="16.4" height="51.44" fill="#c8102e"/>
<line x1="362.35" y1="487.2" x2="362.35" y2="490.6" stroke="#231f20" stroke-width="0.9" />
<text x="362.35" y="499.69" font-size="9" text-anchor="middle" fill="#2a2a2a" stroke="#2a2a2a" stroke-width="0.2" textLength="17.3" lengthAdjust="spacingAndGlyphs">RvT2</text>
<text x="362.55" y="417.73" font-size="8.8" text-anchor="middle" fill="#2a2a2a" stroke="#2a2a2a" stroke-width="0.1" textLength="15.6" lengthAdjust="spacingAndGlyphs">52%</text>
<line x1="388.9" y1="454.07" x2="388.9" y2="443.18" stroke="#231f20" stroke-width="1.2" />
<line x1="384.7" y1="443.18" x2="393.1" y2="443.18" stroke="#231f20" stroke-width="1.3" />
<rect x="380.7" y="454.07" width="16.4" height="33.13" fill="#c8102e"/>
<line x1="388.9" y1="487.2" x2="388.9" y2="490.6" stroke="#231f20" stroke-width="0.9" />
<text x="388.9" y="499.69" font-size="9" text-anchor="middle" fill="#2a2a2a" stroke="#2a2a2a" stroke-width="0.2" textLength="17.3" lengthAdjust="spacingAndGlyphs">RvT3</text>
<text x="388.7" y="422.93" font-size="8.8" text-anchor="middle" fill="#2a2a2a" stroke="#2a2a2a" stroke-width="0.1" textLength="15.6" lengthAdjust="spacingAndGlyphs">34%</text>
<line x1="415.45" y1="431.82" x2="415.45" y2="421.17" stroke="#231f20" stroke-width="1.2" />
<line x1="411.25" y1="421.17" x2="419.65" y2="421.17" stroke="#231f20" stroke-width="1.3" />
<rect x="407.25" y="431.82" width="16.4" height="55.38" fill="#c8102e"/>
<line x1="415.45" y1="487.2" x2="415.45" y2="490.6" stroke="#231f20" stroke-width="0.9" />
<text x="415.45" y="499.69" font-size="9" text-anchor="middle" fill="#2a2a2a" stroke="#2a2a2a" stroke-width="0.2" textLength="17.3" lengthAdjust="spacingAndGlyphs">RvT4</text>
<text x="413.75" y="415.23" font-size="8.8" text-anchor="middle" fill="#2a2a2a" stroke="#2a2a2a" stroke-width="0.1" textLength="15.6" lengthAdjust="spacingAndGlyphs">56%</text>
<line x1="442" y1="414.91" x2="442" y2="405.18" stroke="#231f20" stroke-width="1.2" />
<line x1="437.8" y1="405.18" x2="446.2" y2="405.18" stroke="#231f20" stroke-width="1.3" />
<rect x="433.8" y="414.91" width="16.4" height="72.29" fill="#c8102e"/>
<line x1="442" y1="487.2" x2="442" y2="490.6" stroke="#231f20" stroke-width="0.9" />
<text x="442" y="499.69" font-size="9" text-anchor="middle" fill="#2a2a2a" stroke="#2a2a2a" stroke-width="0.2" textLength="17.3" lengthAdjust="spacingAndGlyphs">RvD2</text>
<text x="443.3" y="401.48" font-size="8.8" text-anchor="middle" fill="#2a2a2a" stroke="#2a2a2a" stroke-width="0.1" textLength="15.6" lengthAdjust="spacingAndGlyphs">73%</text>
<line x1="468.55" y1="387.57" x2="468.55" y2="379.23" stroke="#231f20" stroke-width="1.2" />
<line x1="464.35" y1="379.23" x2="472.75" y2="379.23" stroke="#231f20" stroke-width="1.3" />
<rect x="460.35" y="387.57" width="16.4" height="99.63" fill="#0f4c81"/>
<line x1="468.55" y1="487.2" x2="468.55" y2="490.6" stroke="#231f20" stroke-width="0.9" />
<text x="468.55" y="499.69" font-size="9" text-anchor="middle" fill="#2a2a2a" stroke="#2a2a2a" stroke-width="0.2" textLength="19.8" lengthAdjust="spacingAndGlyphs">PAD4</text>
<text x="469.05" y="374.48" font-size="8.8" text-anchor="middle" fill="#2a2a2a" stroke="#2a2a2a" stroke-width="0.1" textLength="20" lengthAdjust="spacingAndGlyphs">100%</text>
<path d="M362.3 422.15V424.91M360.92 423.09L363.68 423.09M361.43 424.76L362.3 423.46L363.17 424.76" stroke="#231f20" stroke-width="0.8" fill="none"/>
<path d="M389.03 427.53L388.48 432.47M390.52 427.53L389.97 432.47M387.69 429.26H391.31M387.69 430.86H391.31" stroke="#231f20" stroke-width="0.79" fill="none"/>
<path d="M387.07 436.75V439.5M385.7 437.69L388.45 437.69M386.2 439.36L387.07 438.06L387.94 439.36" stroke="#231f20" stroke-width="0.8" fill="none"/>
<path d="M390.52 436.75V439.5M389.15 437.69L391.9 437.69M389.65 439.36L390.52 438.06L391.39 439.36" stroke="#231f20" stroke-width="0.8" fill="none"/>
<line x1="318.2" y1="387.3" x2="486" y2="387.3" stroke="#231f20" stroke-width="1.0" stroke-dasharray="4 2.6"/>
<line x1="324.9" y1="503.6" x2="452.6" y2="503.6" stroke="#555" stroke-width="1.1" />
<text x="481.9" y="499.63" font-size="8.8" fill="#2a2a2a" stroke="#2a2a2a" stroke-width="0.1" textLength="29.6" lengthAdjust="spacingAndGlyphs">inhibitor</text>
<text x="388.85" y="513.33" font-size="8.8" text-anchor="middle" fill="#2a2a2a" stroke="#2a2a2a" stroke-width="0.1" textLength="21.9" lengthAdjust="spacingAndGlyphs">10 nM</text>
<text x="468.4" y="513.13" font-size="8.8" text-anchor="middle" fill="#2a2a2a" stroke="#2a2a2a" stroke-width="0.1" textLength="22.4" lengthAdjust="spacingAndGlyphs">10 μM</text>
<text x="8.2" y="539.2" font-size="11.3" fill="#000" stroke="#000" stroke-width="0.45" font-weight="bold">E</text>
<line x1="39" y1="571.7" x2="39" y2="673.5" stroke="#231f20" stroke-width="1.3" />
<line x1="38.4" y1="673.5" x2="183.6" y2="673.5" stroke="#231f20" stroke-width="1.3" />
<line x1="39" y1="625.2" x2="183.6" y2="625.2" stroke="#231f20" stroke-width="1" />
<line x1="36" y1="577" x2="39" y2="577" stroke="#231f20" stroke-width="0.9" />
<text x="32.9" y="579.79" font-size="9" text-anchor="end" fill="#2a2a2a" stroke="#2a2a2a" stroke-width="0.2" textLength="8.9" lengthAdjust="spacingAndGlyphs">40</text>
<line x1="36" y1="601.1" x2="39" y2="601.1" stroke="#231f20" stroke-width="0.9" />
<text x="32.9" y="603.89" font-size="9" text-anchor="end" fill="#2a2a2a" stroke="#2a2a2a" stroke-width="0.2" textLength="8.9" lengthAdjust="spacingAndGlyphs">20</text>
<line x1="36" y1="625.2" x2="39" y2="625.2" stroke="#231f20" stroke-width="0.9" />
<text x="32.9" y="627.99" font-size="9" text-anchor="end" fill="#2a2a2a" stroke="#2a2a2a" stroke-width="0.2" textLength="3.9" lengthAdjust="spacingAndGlyphs">0</text>
<line x1="36" y1="649.3" x2="39" y2="649.3" stroke="#231f20" stroke-width="0.9" />
<text x="32.9" y="652.09" font-size="9" text-anchor="end" fill="#2a2a2a" stroke="#2a2a2a" stroke-width="0.2" textLength="13.4" lengthAdjust="spacingAndGlyphs">−20</text>
<line x1="36" y1="673.4" x2="39" y2="673.4" stroke="#231f20" stroke-width="0.9" />
<text x="32.9" y="676.19" font-size="9" text-anchor="end" fill="#2a2a2a" stroke="#2a2a2a" stroke-width="0.2" textLength="13.4" lengthAdjust="spacingAndGlyphs">−40</text>
<rect x="44.6" y="545" width="6.6" height="6.6" fill="#c8102e"/>
<rect x="44.6" y="555.5" width="6.6" height="6.6" fill="#0f4c81"/>
<text x="56.6" y="550.32" font-size="7.8" fill="#2a2a2a" stroke="#2a2a2a" stroke-width="0.1" textLength="89.6" lengthAdjust="spacingAndGlyphs">Without GPR18 antagonist</text>
<text x="56.6" y="560.72" font-size="7.8" fill="#2a2a2a" stroke="#2a2a2a" stroke-width="0.1" textLength="78" lengthAdjust="spacingAndGlyphs">With GPR18 antagonist</text>
<line x1="61.8" y1="625.92" x2="61.8" y2="633.15" stroke="#333" stroke-width="1" />
<line x1="59.4" y1="633.15" x2="64.2" y2="633.15" stroke="#333" stroke-width="1.1" />
<rect x="57.6" y="625.2" width="8.4" height="0.72" fill="#0f4c81"/>
<line x1="55" y1="673.5" x2="55" y2="676.9" stroke="#231f20" stroke-width="0.9" />
<text x="55" y="686.19" font-size="9" text-anchor="middle" fill="#2a2a2a" stroke="#2a2a2a" stroke-width="0.2" textLength="4" lengthAdjust="spacingAndGlyphs">0</text>
<line x1="85.65" y1="594.23" x2="85.65" y2="578.08" stroke="#333" stroke-width="1" />
<line x1="83.25" y1="578.08" x2="88.05" y2="578.08" stroke="#333" stroke-width="1.1" />
<rect x="81.5" y="594.23" width="8.3" height="30.97" fill="#c8102e"/>
<line x1="99.6" y1="641.59" x2="99.6" y2="648.58" stroke="#333" stroke-width="1" />
<line x1="97.2" y1="648.58" x2="102" y2="648.58" stroke="#333" stroke-width="1.1" />
<rect x="95.4" y="625.2" width="8.4" height="16.39" fill="#0f4c81"/>
<line x1="92.8" y1="673.5" x2="92.8" y2="676.9" stroke="#231f20" stroke-width="0.9" />
<text x="92.8" y="686.19" font-size="9" text-anchor="middle" fill="#2a2a2a" stroke="#2a2a2a" stroke-width="0.2" textLength="3.5" lengthAdjust="spacingAndGlyphs">1</text>
<line x1="122.55" y1="587.24" x2="122.55" y2="579.65" stroke="#333" stroke-width="1" />
<line x1="120.15" y1="579.65" x2="124.95" y2="579.65" stroke="#333" stroke-width="1.1" />
<rect x="118.4" y="587.24" width="8.3" height="37.96" fill="#c8102e"/>
<line x1="136.5" y1="638.82" x2="136.5" y2="656.29" stroke="#333" stroke-width="1" />
<line x1="134.1" y1="656.29" x2="138.9" y2="656.29" stroke="#333" stroke-width="1.1" />
<rect x="132.3" y="625.2" width="8.4" height="13.62" fill="#0f4c81"/>
<line x1="129.7" y1="673.5" x2="129.7" y2="676.9" stroke="#231f20" stroke-width="0.9" />
<text x="129.7" y="686.19" font-size="9" text-anchor="middle" fill="#2a2a2a" stroke="#2a2a2a" stroke-width="0.2" textLength="8" lengthAdjust="spacingAndGlyphs">10</text>
<line x1="159.75" y1="589.17" x2="159.75" y2="581.34" stroke="#333" stroke-width="1" />
<line x1="157.35" y1="581.34" x2="162.15" y2="581.34" stroke="#333" stroke-width="1.1" />
<rect x="155.6" y="589.17" width="8.3" height="36.03" fill="#c8102e"/>
<line x1="173.7" y1="619.18" x2="173.7" y2="604.35" stroke="#333" stroke-width="1" />
<line x1="171.3" y1="604.35" x2="176.1" y2="604.35" stroke="#333" stroke-width="1.1" />
<rect x="169.5" y="619.18" width="8.4" height="6.03" fill="#0f4c81"/>
<line x1="166.9" y1="673.5" x2="166.9" y2="676.9" stroke="#231f20" stroke-width="0.9" />
<text x="166.9" y="686.19" font-size="9" text-anchor="middle" fill="#2a2a2a" stroke="#2a2a2a" stroke-width="0.2" textLength="12" lengthAdjust="spacingAndGlyphs">100</text>
<line x1="39" y1="625.2" x2="183.6" y2="625.2" stroke="#231f20" stroke-width="1" />
<path d="M115.4 574.3V570.6H141.8V574.3" fill="none" stroke="#231f20" stroke-width="1.0"/>
<path d="M128.6 564.93V568.1M127.02 566.02L130.18 566.02M127.6 567.93L128.6 566.43L129.6 567.93" stroke="#231f20" stroke-width="0.92" fill="none"/>
<path d="M153.4 574.3V570.6H179.8V574.3" fill="none" stroke="#231f20" stroke-width="1.0"/>
<path d="M166.6 564.93V568.1M165.02 566.02L168.18 566.02M165.6 567.93L166.6 566.43L167.6 567.93" stroke="#231f20" stroke-width="0.92" fill="none"/>
<text x="111.6" y="699.2" font-size="10" text-anchor="middle" fill="#2a2a2a" stroke="#2a2a2a" stroke-width="0.2" textLength="35.3" lengthAdjust="spacingAndGlyphs">RvD2 [nM]</text>
<text x="11.3" y="625.13" font-size="8.8" text-anchor="middle" fill="#2a2a2a" stroke="#2a2a2a" stroke-width="0.2" textLength="64" lengthAdjust="spacingAndGlyphs" transform="rotate(-90 11.3 622.4)">% Reduction of NET</text>
<text x="242.4" y="539.2" font-size="11.3" fill="#000" stroke="#000" stroke-width="0.45" font-weight="bold">F</text>
<text x="301.7" y="580.41" font-size="9.4" text-anchor="middle" fill="#262626" stroke="#262626" stroke-width="0.2" textLength="72.2" lengthAdjust="spacingAndGlyphs" font-style="italic">NET-bound MPO</text>
<line x1="274.5" y1="596.2" x2="274.5" y2="674" stroke="#231f20" stroke-width="1.2" />
<line x1="271.2" y1="673.5" x2="327.8" y2="673.5" stroke="#231f20" stroke-width="1.2" />
<line x1="271.2" y1="673.5" x2="274.5" y2="673.5" stroke="#231f20" stroke-width="0.9" />
<text x="268.7" y="676.29" font-size="9" text-anchor="end" fill="#2a2a2a" stroke="#2a2a2a" stroke-width="0.2" textLength="3.9" lengthAdjust="spacingAndGlyphs">0</text>
<line x1="271.2" y1="655.25" x2="274.5" y2="655.25" stroke="#231f20" stroke-width="0.9" />
<text x="268.7" y="658.04" font-size="9" text-anchor="end" fill="#2a2a2a" stroke="#2a2a2a" stroke-width="0.2" textLength="13.6" lengthAdjust="spacingAndGlyphs">100</text>
<line x1="271.2" y1="637" x2="274.5" y2="637" stroke="#231f20" stroke-width="0.9" />
<text x="268.7" y="639.79" font-size="9" text-anchor="end" fill="#2a2a2a" stroke="#2a2a2a" stroke-width="0.2" textLength="13.6" lengthAdjust="spacingAndGlyphs">200</text>
<line x1="271.2" y1="618.75" x2="274.5" y2="618.75" stroke="#231f20" stroke-width="0.9" />
<text x="268.7" y="621.54" font-size="9" text-anchor="end" fill="#2a2a2a" stroke="#2a2a2a" stroke-width="0.2" textLength="13.6" lengthAdjust="spacingAndGlyphs">300</text>
<line x1="271.2" y1="600.5" x2="274.5" y2="600.5" stroke="#231f20" stroke-width="0.9" />
<text x="268.7" y="603.29" font-size="9" text-anchor="end" fill="#2a2a2a" stroke="#2a2a2a" stroke-width="0.2" textLength="13.6" lengthAdjust="spacingAndGlyphs">400</text>
<line x1="288.1" y1="673.5" x2="288.1" y2="676.3" stroke="#231f20" stroke-width="1.1" />
<line x1="309" y1="673.5" x2="309" y2="676.3" stroke="#231f20" stroke-width="1.1" />
<path d="M289.3 600.5V596.5H315V600.5" fill="none" stroke="#231f20" stroke-width="1.0"/>
<path d="M301.8 589.2V592.24M300.28 590.24L303.32 590.24M300.84 592.08L301.8 590.64L302.76 592.08" stroke="#231f20" stroke-width="0.88" fill="none"/>
<line x1="288.1" y1="618.75" x2="309" y2="635.72" stroke="#231f20" stroke-width="1.2" />
<line x1="288.1" y1="624.23" x2="309" y2="639.74" stroke="#231f20" stroke-width="1.2" />
<line x1="288.1" y1="648.86" x2="309" y2="656.16" stroke="#231f20" stroke-width="1.2" />
<line x1="281.3" y1="630.8" x2="294.8" y2="630.8" stroke="#888" stroke-width="1.8" />
<line x1="301.9" y1="643.8" x2="315.6" y2="643.8" stroke="#888" stroke-width="1.8" />
<circle cx="288.1" cy="618.75" r="1.75" fill="#c8102e"/>
<circle cx="309" cy="635.72" r="1.75" fill="#0f4c81"/>
<circle cx="288.1" cy="624.23" r="1.75" fill="#c8102e"/>
<circle cx="309" cy="639.74" r="1.75" fill="#0f4c81"/>
<circle cx="288.1" cy="648.86" r="1.75" fill="#c8102e"/>
<circle cx="309" cy="656.16" r="1.75" fill="#0f4c81"/>
<text x="248.3" y="637.02" font-size="8.6" text-anchor="middle" fill="#2a2a2a" stroke="#2a2a2a" stroke-width="0.2" textLength="93.7" lengthAdjust="spacingAndGlyphs" transform="rotate(-90 248.3 634.35)">pg/mL above vehicle control</text>
<text x="292.6" y="686" font-size="8.4" text-anchor="end" fill="#2a2a2a" stroke="#2a2a2a" stroke-width="0.2" textLength="16.3" lengthAdjust="spacingAndGlyphs" transform="rotate(-40 292.6 686)">IL-1β</text>
<text x="312.4" y="685.3" font-size="8.6" text-anchor="end" fill="#2a2a2a" stroke="#2a2a2a" stroke-width="0.2" textLength="21" lengthAdjust="spacingAndGlyphs" transform="rotate(-42 312.4 685.3)">+RvT1</text>
<text x="378" y="539.2" font-size="11.6" fill="#000" stroke="#000" stroke-width="0.45" textLength="8.8" lengthAdjust="spacingAndGlyphs" font-weight="bold">G</text>
<text x="391.9" y="584.5" font-size="9.4" font-style="italic" fill="#262626" stroke="#262626" stroke-width="0.2" textLength="102.9" lengthAdjust="spacingAndGlyphs">LTB<tspan font-size="6.5" dy="2">4</tspan><tspan dy="-2">-stimulated NETosis</tspan></text>
<line x1="406.6" y1="600" x2="406.6" y2="673.7" stroke="#231f20" stroke-width="1.3" />
<line x1="406" y1="673.2" x2="484.6" y2="673.2" stroke="#231f20" stroke-width="1.3" />
<line x1="403.3" y1="673.2" x2="406.6" y2="673.2" stroke="#231f20" stroke-width="0.9" />
<text x="400.7" y="675.99" font-size="9" text-anchor="end" fill="#2a2a2a" stroke="#2a2a2a" stroke-width="0.2" textLength="3.9" lengthAdjust="spacingAndGlyphs">0</text>
<line x1="403.3" y1="659.6" x2="406.6" y2="659.6" stroke="#231f20" stroke-width="0.9" />
<text x="400.7" y="662.39" font-size="9" text-anchor="end" fill="#2a2a2a" stroke="#2a2a2a" stroke-width="0.2" textLength="8.7" lengthAdjust="spacingAndGlyphs">10</text>
<line x1="403.3" y1="646" x2="406.6" y2="646" stroke="#231f20" stroke-width="0.9" />
<text x="400.7" y="648.79" font-size="9" text-anchor="end" fill="#2a2a2a" stroke="#2a2a2a" stroke-width="0.2" textLength="8.7" lengthAdjust="spacingAndGlyphs">20</text>
<line x1="403.3" y1="632.4" x2="406.6" y2="632.4" stroke="#231f20" stroke-width="0.9" />
<text x="400.7" y="635.19" font-size="9" text-anchor="end" fill="#2a2a2a" stroke="#2a2a2a" stroke-width="0.2" textLength="8.7" lengthAdjust="spacingAndGlyphs">30</text>
<line x1="403.3" y1="618.8" x2="406.6" y2="618.8" stroke="#231f20" stroke-width="0.9" />
<text x="400.7" y="621.59" font-size="9" text-anchor="end" fill="#2a2a2a" stroke="#2a2a2a" stroke-width="0.2" textLength="8.7" lengthAdjust="spacingAndGlyphs">40</text>
<line x1="403.3" y1="605.2" x2="406.6" y2="605.2" stroke="#231f20" stroke-width="0.9" />
<text x="400.7" y="607.99" font-size="9" text-anchor="end" fill="#2a2a2a" stroke="#2a2a2a" stroke-width="0.2" textLength="8.7" lengthAdjust="spacingAndGlyphs">50</text>
<text x="381.8" y="640.55" font-size="9.2" text-anchor="middle" fill="#2a2a2a" stroke="#2a2a2a" stroke-width="0.2" textLength="69.6" lengthAdjust="spacingAndGlyphs" transform="rotate(-90 381.8 637.7)">% Reduction of NETs</text>
<line x1="417.1" y1="673.2" x2="417.1" y2="676.6" stroke="#231f20" stroke-width="0.9" />
<text x="417.1" y="685.89" font-size="9" text-anchor="middle" fill="#2a2a2a" stroke="#2a2a2a" stroke-width="0.2" textLength="4.2" lengthAdjust="spacingAndGlyphs">0</text>
<line x1="432.6" y1="673.2" x2="432.6" y2="676.6" stroke="#231f20" stroke-width="0.9" />
<text x="432.6" y="685.89" font-size="9" text-anchor="middle" fill="#2a2a2a" stroke="#2a2a2a" stroke-width="0.2" textLength="3.6" lengthAdjust="spacingAndGlyphs">1</text>
<line x1="448.3" y1="673.2" x2="448.3" y2="676.6" stroke="#231f20" stroke-width="0.9" />
<text x="448.3" y="685.89" font-size="9" text-anchor="middle" fill="#2a2a2a" stroke="#2a2a2a" stroke-width="0.2" textLength="8.3" lengthAdjust="spacingAndGlyphs">10</text>
<line x1="463.8" y1="673.2" x2="463.8" y2="676.6" stroke="#231f20" stroke-width="0.9" />
<text x="463.8" y="685.89" font-size="9" text-anchor="middle" fill="#2a2a2a" stroke="#2a2a2a" stroke-width="0.2" textLength="12.5" lengthAdjust="spacingAndGlyphs">100</text>
<line x1="432.6" y1="647.63" x2="432.6" y2="632.67" stroke="#333" stroke-width="1.1" />
<line x1="430.3" y1="632.67" x2="434.9" y2="632.67" stroke="#333" stroke-width="1.2" />
<rect x="427.9" y="647.63" width="9.4" height="25.57" fill="#c8102e"/>
<line x1="448.3" y1="635.39" x2="448.3" y2="628.73" stroke="#333" stroke-width="1.1" />
<line x1="446" y1="628.73" x2="450.6" y2="628.73" stroke="#333" stroke-width="1.2" />
<rect x="443.6" y="635.39" width="9.4" height="37.81" fill="#0f4c81"/>
<line x1="463.8" y1="619.21" x2="463.8" y2="612.14" stroke="#333" stroke-width="1.1" />
<line x1="461.5" y1="612.14" x2="466.1" y2="612.14" stroke="#333" stroke-width="1.2" />
<rect x="459.1" y="619.21" width="9.4" height="53.99" fill="#3bb54a"/>
<path d="M448.3 622.28V625.17M446.85 623.27L449.75 623.27M447.39 625.02L448.3 623.65L449.21 625.02" stroke="#231f20" stroke-width="0.84" fill="none"/>
<path d="M461.99 605.58V608.47M460.54 606.57L463.44 606.57M461.08 608.32L461.99 606.95L462.9 608.32" stroke="#231f20" stroke-width="0.84" fill="none"/>
<path d="M465.61 605.58V608.47M464.16 606.57L467.06 606.57M464.7 608.32L465.61 606.95L466.52 608.32" stroke="#231f20" stroke-width="0.84" fill="none"/>
<text x="476" y="685.85" font-size="9.2" fill="#2a2a2a" stroke="#2a2a2a" stroke-width="0.2" textLength="35.5" lengthAdjust="spacingAndGlyphs">RvT1 [nM]</text>
<text x="419.1" y="698.8" font-size="9.2" fill="#333" stroke="#333" stroke-width="0.15" textLength="49.2" lengthAdjust="spacingAndGlyphs">+LTB<tspan font-size="6.2" dy="2">4</tspan><tspan dy="-2"> [10 nM]</tspan></text>
<path d="M0 0H520V712H0Z M1.05 0.9V710.8H518.8V0.9Z" fill="#000" fill-rule="evenodd"/>
</svg></body></html>
